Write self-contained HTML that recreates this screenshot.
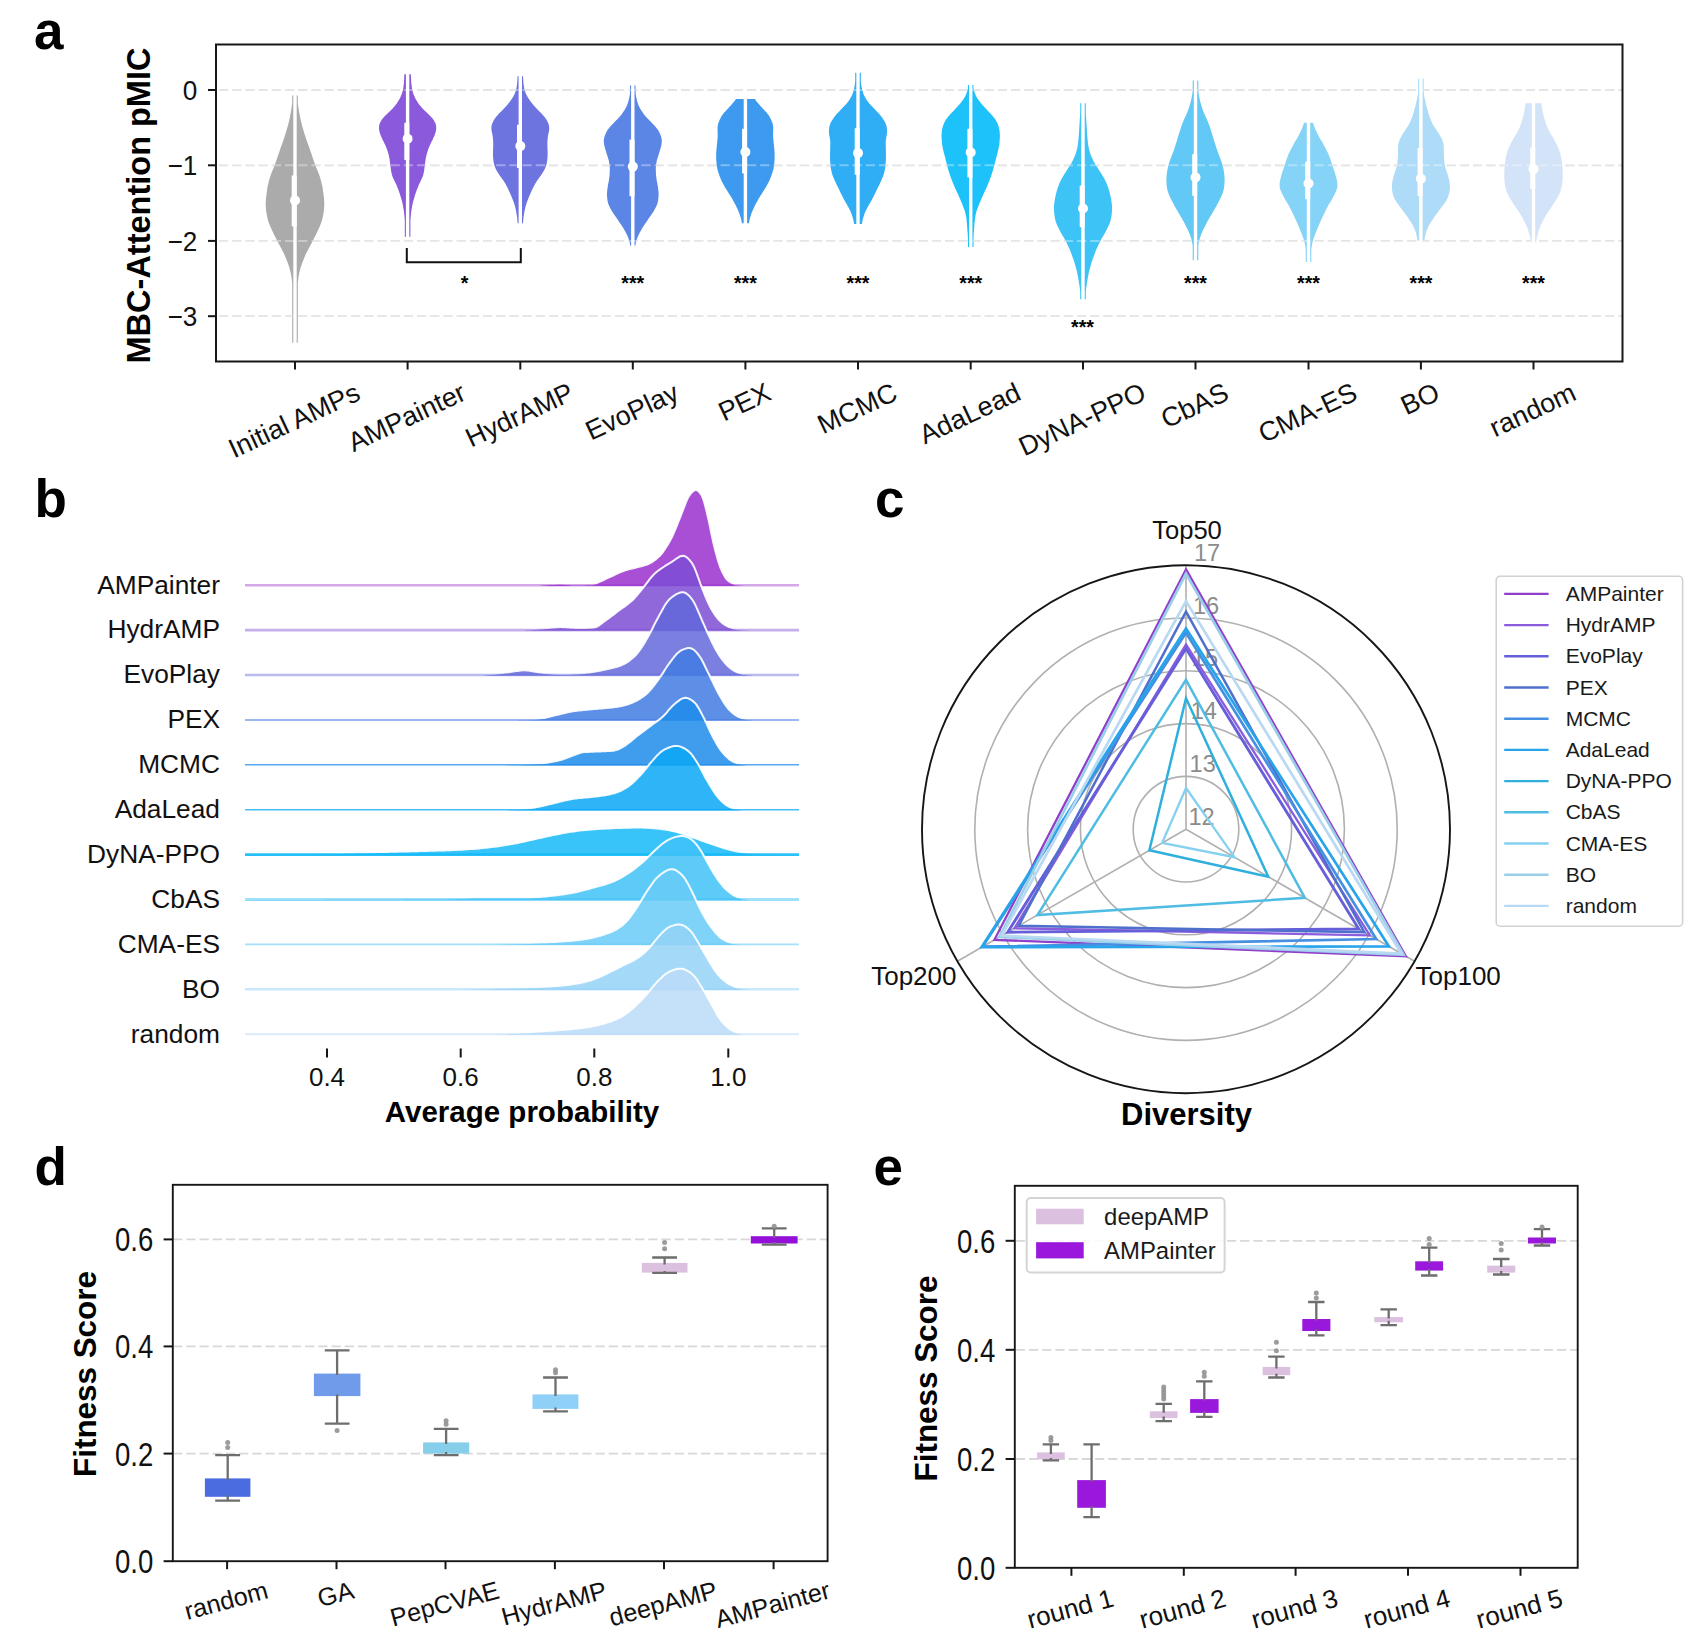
<!DOCTYPE html>
<html lang="en"><head><meta charset="utf-8"><title>Figure</title>
<style>html,body{margin:0;padding:0;background:#fff}svg{display:block}text{font-family:"Liberation Sans", sans-serif}</style></head>
<body>
<svg width="1704" height="1650" viewBox="0 0 1704 1650">
<rect width="1704" height="1650" fill="#fff"/>
<g id="panel-a">
<line x1="219" x2="1622.5" y1="90" y2="90" stroke="#d8d8d8" stroke-width="1.8" stroke-dasharray="9.2 4"/>
<line x1="219" x2="1622.5" y1="165.3" y2="165.3" stroke="#d8d8d8" stroke-width="1.8" stroke-dasharray="9.2 4"/>
<line x1="219" x2="1622.5" y1="240.9" y2="240.9" stroke="#d8d8d8" stroke-width="1.8" stroke-dasharray="9.2 4"/>
<line x1="219" x2="1622.5" y1="316.2" y2="316.2" stroke="#d8d8d8" stroke-width="1.8" stroke-dasharray="9.2 4"/>
<polygon points="292.2,95.5 292.2,98.2 292.2,101 292.1,103.8 291.7,106.6 291.3,109.3 290.8,112.1 290.3,114.9 289.8,117.7 289.2,120.5 288.5,123.2 287.8,126 287,128.8 286.2,131.6 285.3,134.4 284.4,137.1 283.5,139.9 282.5,142.7 281.5,145.5 280.5,148.2 279.6,151 278.6,153.8 277.7,156.6 276.7,159.4 275.8,162.1 274.7,164.9 273.7,167.7 272.5,170.5 271.4,173.2 270.4,176 269.5,178.8 268.8,181.6 268.1,184.4 267.5,187.1 267.1,189.9 266.7,192.7 266.3,195.5 266,198.3 265.8,201 265.7,203.8 265.8,206.6 266,209.4 266.3,212.1 266.8,214.9 267.4,217.7 268.1,220.5 269,223.3 270.1,226 271.3,228.8 272.6,231.6 274,234.4 275.4,237.2 276.8,239.9 278.2,242.7 279.7,245.5 281.2,248.3 282.6,251 284,253.8 285.2,256.6 286.4,259.4 287.5,262.2 288.5,264.9 289.4,267.7 290.1,270.5 290.8,273.3 291.3,276 291.7,278.8 292,281.6 292.2,284.4 292.2,287.2 292.2,289.9 292.2,292.7 292.2,295.5 292.2,298.3 292.2,301.1 292.2,303.8 292.2,306.6 292.2,309.4 292.2,312.2 292.2,314.9 292.2,317.7 292.2,320.5 292.2,323.3 292.2,326.1 292.2,328.8 292.2,331.6 292.2,334.4 292.2,337.2 292.2,339.9 292.2,342.7 297.8,342.7 297.8,339.9 297.8,337.2 297.8,334.4 297.8,331.6 297.8,328.8 297.8,326.1 297.8,323.3 297.8,320.5 297.8,317.7 297.8,314.9 297.8,312.2 297.8,309.4 297.8,306.6 297.8,303.8 297.8,301.1 297.8,298.3 297.8,295.5 297.8,292.7 297.8,289.9 297.8,287.2 297.8,284.4 298,281.6 298.3,278.8 298.7,276 299.2,273.3 299.9,270.5 300.6,267.7 301.5,264.9 302.5,262.2 303.6,259.4 304.8,256.6 306,253.8 307.4,251 308.8,248.3 310.3,245.5 311.8,242.7 313.2,239.9 314.6,237.2 316,234.4 317.4,231.6 318.7,228.8 319.9,226 321,223.3 321.9,220.5 322.6,217.7 323.2,214.9 323.7,212.1 324,209.4 324.2,206.6 324.3,203.8 324.2,201 324,198.3 323.7,195.5 323.3,192.7 322.9,189.9 322.5,187.1 321.9,184.4 321.2,181.6 320.5,178.8 319.6,176 318.6,173.2 317.5,170.5 316.3,167.7 315.3,164.9 314.2,162.1 313.3,159.4 312.3,156.6 311.4,153.8 310.4,151 309.5,148.2 308.5,145.5 307.5,142.7 306.5,139.9 305.6,137.1 304.7,134.4 303.8,131.6 303,128.8 302.2,126 301.5,123.2 300.8,120.5 300.2,117.7 299.7,114.9 299.2,112.1 298.7,109.3 298.3,106.6 297.9,103.8 297.8,101 297.8,98.2 297.8,95.5" fill="#ababab"/>
<line x1="295" x2="295" y1="94.5" y2="343.7" stroke="#fff" stroke-width="3.4"/>
<line x1="294.2" x2="294.2" y1="175.5" y2="226.4" stroke="#fff" stroke-width="5"/>
<circle cx="295" cy="200.4" r="5" fill="#fff"/>
<polygon points="404.3,74.2 404.3,76 404.2,77.8 404.1,79.7 404,81.5 403.9,83.3 403.7,85.1 403.4,87 403.2,88.8 402.8,90.6 402.3,92.4 401.7,94.3 400.9,96.1 400.1,97.9 399.1,99.8 398,101.6 396.8,103.4 395.4,105.2 393.9,107.1 392.2,108.9 390.4,110.7 388.5,112.5 386.5,114.4 384.7,116.2 383.1,118 381.7,119.8 380.6,121.7 379.7,123.5 379.2,125.3 379,127.2 379,129 379.3,130.8 379.7,132.6 380.3,134.5 381,136.3 381.9,138.1 382.7,139.9 383.7,141.8 384.5,143.6 385.4,145.4 386.2,147.3 386.9,149.1 387.5,150.9 388.1,152.7 388.6,154.6 389,156.4 389.4,158.2 389.7,160 389.9,161.9 390.2,163.7 390.4,165.5 390.7,167.4 390.9,169.2 391.1,171 391.5,172.8 391.9,174.7 392.5,176.5 393.2,178.3 394.1,180.1 395,182 395.9,183.8 396.7,185.6 397.4,187.5 398.2,189.3 398.8,191.1 399.5,192.9 400.1,194.8 400.6,196.6 401.2,198.4 401.7,200.2 402.2,202.1 402.6,203.9 403,205.7 403.3,207.6 403.6,209.4 403.9,211.2 404.1,213 404.3,214.9 404.5,216.7 404.6,218.5 404.8,220.3 404.8,222.2 404.8,224 404.8,225.8 404.8,227.7 404.8,229.5 404.8,231.3 404.8,233.1 404.8,235 404.8,236.8 410.4,236.8 410.4,235 410.4,233.1 410.4,231.3 410.4,229.5 410.4,227.7 410.4,225.8 410.4,224 410.4,222.2 410.4,220.3 410.6,218.5 410.7,216.7 410.9,214.9 411.1,213 411.3,211.2 411.6,209.4 411.9,207.6 412.2,205.7 412.6,203.9 413,202.1 413.5,200.2 414,198.4 414.6,196.6 415.1,194.8 415.7,192.9 416.4,191.1 417,189.3 417.8,187.5 418.5,185.6 419.3,183.8 420.2,182 421.1,180.1 422,178.3 422.7,176.5 423.3,174.7 423.7,172.8 424.1,171 424.3,169.2 424.5,167.4 424.8,165.5 425,163.7 425.3,161.9 425.5,160 425.8,158.2 426.2,156.4 426.6,154.6 427.1,152.7 427.7,150.9 428.3,149.1 429,147.3 429.8,145.4 430.7,143.6 431.5,141.8 432.5,139.9 433.3,138.1 434.2,136.3 434.9,134.5 435.5,132.6 435.9,130.8 436.2,129 436.2,127.2 436,125.3 435.5,123.5 434.6,121.7 433.5,119.8 432.1,118 430.5,116.2 428.7,114.4 426.7,112.5 424.8,110.7 423,108.9 421.3,107.1 419.8,105.2 418.4,103.4 417.2,101.6 416.1,99.8 415.1,97.9 414.3,96.1 413.5,94.3 412.9,92.4 412.4,90.6 412,88.8 411.8,87 411.5,85.1 411.3,83.3 411.2,81.5 411.1,79.7 411,77.8 410.9,76 410.9,74.2" fill="#8b59db"/>
<line x1="407.6" x2="407.6" y1="73.2" y2="237.8" stroke="#fff" stroke-width="3.4"/>
<line x1="406.8" x2="406.8" y1="122.8" y2="159.9" stroke="#fff" stroke-width="5"/>
<circle cx="407.6" cy="138.7" r="5" fill="#fff"/>
<polygon points="517.5,76.2 517.5,77.8 517.4,79.5 517.3,81.2 517.2,82.8 517,84.5 516.8,86.1 516.5,87.8 516.2,89.4 515.7,91.1 515.1,92.7 514.4,94.4 513.5,96 512.6,97.7 511.5,99.3 510.4,101 509.2,102.6 507.8,104.3 506.4,105.9 504.9,107.6 503.3,109.3 501.7,110.9 500,112.6 498.4,114.2 496.9,115.9 495.6,117.5 494.4,119.2 493.5,120.8 492.7,122.5 492,124.1 491.6,125.8 491.4,127.4 491.4,129.1 491.6,130.7 491.9,132.4 492.3,134 492.6,135.7 492.8,137.3 493,139 493.1,140.7 493.2,142.3 493.2,144 493.2,145.6 493.2,147.3 493.1,148.9 493,150.6 493,152.2 493,153.9 493,155.5 493.1,157.2 493.2,158.8 493.4,160.5 493.6,162.1 494,163.8 494.4,165.4 495,167.1 495.7,168.8 496.6,170.4 497.5,172.1 498.6,173.7 499.7,175.4 500.9,177 502.1,178.7 503.2,180.3 504.3,182 505.3,183.6 506.2,185.3 507.1,186.9 507.9,188.6 508.7,190.2 509.5,191.9 510.2,193.5 510.9,195.2 511.6,196.8 512.3,198.5 512.9,200.2 513.6,201.8 514.1,203.5 514.6,205.1 515.1,206.8 515.5,208.4 515.9,210.1 516.2,211.7 516.5,213.4 516.7,215 517,216.7 517.2,218.3 517.3,220 517.5,221.6 517.5,223.3 523.1,223.3 523.1,221.6 523.3,220 523.4,218.3 523.6,216.7 523.9,215 524.1,213.4 524.4,211.7 524.7,210.1 525.1,208.4 525.5,206.8 526,205.1 526.5,203.5 527,201.8 527.7,200.2 528.3,198.5 529,196.8 529.7,195.2 530.4,193.5 531.1,191.9 531.9,190.2 532.7,188.6 533.5,186.9 534.4,185.3 535.3,183.6 536.3,182 537.4,180.3 538.5,178.7 539.7,177 540.9,175.4 542,173.7 543.1,172.1 544,170.4 544.9,168.8 545.6,167.1 546.2,165.4 546.6,163.8 547,162.1 547.2,160.5 547.4,158.8 547.5,157.2 547.6,155.5 547.6,153.9 547.6,152.2 547.6,150.6 547.5,148.9 547.4,147.3 547.4,145.6 547.4,144 547.4,142.3 547.5,140.7 547.6,139 547.8,137.3 548,135.7 548.3,134 548.7,132.4 549,130.7 549.2,129.1 549.2,127.4 549,125.8 548.6,124.1 547.9,122.5 547.1,120.8 546.2,119.2 545,117.5 543.7,115.9 542.2,114.2 540.6,112.6 538.9,110.9 537.3,109.3 535.7,107.6 534.2,105.9 532.8,104.3 531.4,102.6 530.2,101 529.1,99.3 528,97.7 527.1,96 526.2,94.4 525.5,92.7 524.9,91.1 524.4,89.4 524.1,87.8 523.8,86.1 523.6,84.5 523.4,82.8 523.3,81.2 523.2,79.5 523.1,77.8 523.1,76.2" fill="#6d74df"/>
<line x1="520.3" x2="520.3" y1="75.2" y2="224.3" stroke="#fff" stroke-width="3.4"/>
<line x1="519.5" x2="519.5" y1="124.8" y2="168" stroke="#fff" stroke-width="5"/>
<circle cx="520.3" cy="146.1" r="5" fill="#fff"/>
<polygon points="630,85.6 630,87.4 630,89.2 630,91 630,92.8 629.8,94.6 629.5,96.4 629.1,98.2 628.7,100 628.3,101.8 627.7,103.6 627,105.4 626.1,107.2 625.2,109 624.1,110.8 622.9,112.6 621.6,114.4 620.1,116.2 618.5,118 616.8,119.8 615,121.6 613.2,123.4 611.5,125.2 609.9,127 608.5,128.8 607.2,130.6 606.2,132.4 605.4,134.2 604.7,136 604.2,137.7 603.9,139.5 603.8,141.3 603.9,143.1 604.2,144.9 604.6,146.7 605.1,148.5 605.6,150.3 606.2,152.1 606.7,153.9 607.3,155.7 607.9,157.5 608.4,159.3 608.9,161.1 609.2,162.9 609.5,164.7 609.7,166.5 609.8,168.3 609.8,170.1 609.7,171.9 609.7,173.7 609.5,175.5 609.3,177.3 609.1,179.1 608.8,180.9 608.4,182.7 608.1,184.5 607.8,186.3 607.5,188.1 607.3,189.9 607.1,191.7 607,193.5 607,195.2 607.1,197 607.3,198.8 607.5,200.6 607.9,202.4 608.4,204.2 609.2,206 610,207.8 611,209.6 612.1,211.4 613.3,213.2 614.5,215 615.7,216.8 617,218.6 618.2,220.4 619.4,222.2 620.7,224 621.8,225.8 623,227.6 624.1,229.4 625.1,231.2 626.1,233 626.9,234.8 627.7,236.6 628.5,238.4 629.1,240.2 629.6,242 630,243.8 630,245.6 635.6,245.6 635.6,243.8 636,242 636.5,240.2 637.1,238.4 637.9,236.6 638.7,234.8 639.5,233 640.5,231.2 641.5,229.4 642.6,227.6 643.8,225.8 644.9,224 646.2,222.2 647.4,220.4 648.6,218.6 649.9,216.8 651.1,215 652.3,213.2 653.5,211.4 654.6,209.6 655.6,207.8 656.4,206 657.2,204.2 657.7,202.4 658.1,200.6 658.3,198.8 658.5,197 658.6,195.2 658.6,193.5 658.5,191.7 658.3,189.9 658.1,188.1 657.8,186.3 657.5,184.5 657.2,182.7 656.8,180.9 656.5,179.1 656.3,177.3 656.1,175.5 655.9,173.7 655.9,171.9 655.8,170.1 655.8,168.3 655.9,166.5 656.1,164.7 656.4,162.9 656.7,161.1 657.2,159.3 657.7,157.5 658.3,155.7 658.9,153.9 659.4,152.1 660,150.3 660.5,148.5 661,146.7 661.4,144.9 661.7,143.1 661.8,141.3 661.7,139.5 661.4,137.7 660.9,136 660.2,134.2 659.4,132.4 658.4,130.6 657.1,128.8 655.7,127 654.1,125.2 652.4,123.4 650.6,121.6 648.8,119.8 647.1,118 645.5,116.2 644,114.4 642.7,112.6 641.5,110.8 640.4,109 639.5,107.2 638.6,105.4 637.9,103.6 637.3,101.8 636.9,100 636.5,98.2 636.1,96.4 635.8,94.6 635.6,92.8 635.6,91 635.6,89.2 635.6,87.4 635.6,85.6" fill="#5b86e5"/>
<line x1="632.8" x2="632.8" y1="84.6" y2="246.6" stroke="#fff" stroke-width="3.4"/>
<line x1="632" x2="632" y1="139.6" y2="196.3" stroke="#fff" stroke-width="5"/>
<circle cx="632.8" cy="166.6" r="5" fill="#fff"/>
<polygon points="735.9,98.9 735.1,100.3 734,101.7 732.9,103.1 731.6,104.5 730.4,105.9 729.1,107.3 727.9,108.7 726.6,110.1 725.3,111.4 724,112.8 722.9,114.2 721.9,115.6 721.1,117 720.3,118.4 719.7,119.8 719.1,121.2 718.5,122.6 718.1,124 717.8,125.4 717.6,126.8 717.6,128.2 717.6,129.6 717.6,131 717.6,132.4 717.7,133.8 717.7,135.2 717.6,136.6 717.6,138 717.5,139.4 717.3,140.8 717.2,142.2 717.1,143.6 716.9,145 716.8,146.4 716.6,147.8 716.5,149.2 716.4,150.6 716.3,152 716.2,153.4 716.2,154.8 716.2,156.2 716.2,157.6 716.2,159 716.3,160.4 716.4,161.8 716.5,163.2 716.6,164.6 716.8,166 717.1,167.4 717.3,168.8 717.7,170.2 718.1,171.6 718.5,173 719,174.4 719.5,175.8 720,177.2 720.6,178.6 721.2,180 721.8,181.4 722.5,182.7 723.2,184.1 724,185.5 724.8,186.9 725.6,188.3 726.5,189.7 727.4,191.1 728.3,192.5 729.2,193.9 730.1,195.3 730.9,196.7 731.8,198.1 732.6,199.5 733.4,200.9 734.1,202.3 734.9,203.7 735.6,205.1 736.3,206.5 737,207.9 737.6,209.3 738.2,210.7 738.8,212.1 739.4,213.5 739.8,214.9 740.3,216.3 740.7,217.7 741.1,219.1 741.4,220.5 741.7,221.9 741.9,223.3 748.9,223.3 749.1,221.9 749.4,220.5 749.7,219.1 750.1,217.7 750.5,216.3 751,214.9 751.4,213.5 752,212.1 752.6,210.7 753.2,209.3 753.8,207.9 754.5,206.5 755.2,205.1 755.9,203.7 756.7,202.3 757.4,200.9 758.2,199.5 759,198.1 759.9,196.7 760.7,195.3 761.6,193.9 762.5,192.5 763.4,191.1 764.3,189.7 765.2,188.3 766,186.9 766.8,185.5 767.6,184.1 768.3,182.7 769,181.4 769.6,180 770.2,178.6 770.8,177.2 771.3,175.8 771.8,174.4 772.3,173 772.7,171.6 773.1,170.2 773.5,168.8 773.7,167.4 774,166 774.2,164.6 774.3,163.2 774.4,161.8 774.5,160.4 774.6,159 774.6,157.6 774.6,156.2 774.6,154.8 774.6,153.4 774.5,152 774.4,150.6 774.3,149.2 774.2,147.8 774,146.4 773.9,145 773.7,143.6 773.6,142.2 773.5,140.8 773.3,139.4 773.2,138 773.2,136.6 773.1,135.2 773.1,133.8 773.2,132.4 773.2,131 773.2,129.6 773.2,128.2 773.2,126.8 773,125.4 772.7,124 772.3,122.6 771.7,121.2 771.1,119.8 770.5,118.4 769.7,117 768.9,115.6 767.9,114.2 766.8,112.8 765.5,111.4 764.2,110.1 762.9,108.7 761.7,107.3 760.4,105.9 759.2,104.5 757.9,103.1 756.8,101.7 755.7,100.3 754.9,98.9" fill="#3e9aee"/>
<line x1="745.4" x2="745.4" y1="97.9" y2="224.3" stroke="#fff" stroke-width="3.4"/>
<line x1="744.6" x2="744.6" y1="128.8" y2="173.4" stroke="#fff" stroke-width="5"/>
<circle cx="745.4" cy="152" r="5" fill="#fff"/>
<polygon points="855.2,72.8 855.2,74.5 855.2,76.2 855.2,77.9 855.2,79.6 855.2,81.3 855,83 854.8,84.7 854.5,86.4 854.2,88.1 853.8,89.8 853.3,91.5 852.8,93.2 852.1,94.9 851.3,96.6 850.4,98.3 849.3,100 848.1,101.7 846.7,103.4 845.2,105.1 843.6,106.8 841.9,108.5 840.3,110.2 838.7,111.9 837.1,113.6 835.7,115.3 834.3,117 833.1,118.7 832,120.4 831,122.1 830.3,123.8 829.7,125.5 829.3,127.2 829.1,128.9 828.9,130.6 829,132.3 829.1,134 829.4,135.7 829.7,137.4 830,139.1 830.2,140.8 830.3,142.5 830.3,144.1 830.2,145.8 830.2,147.5 830.2,149.2 830.1,150.9 830.1,152.6 830.1,154.3 830.1,156 830.1,157.7 830.1,159.4 830.2,161.1 830.3,162.8 830.4,164.5 830.5,166.2 830.8,167.9 831.1,169.6 831.5,171.3 831.9,173 832.4,174.7 833,176.4 833.7,178.1 834.4,179.8 835.2,181.5 836,183.2 836.8,184.9 837.6,186.6 838.5,188.3 839.3,190 840.1,191.7 840.9,193.4 841.8,195.1 842.6,196.8 843.5,198.5 844.4,200.2 845.4,201.9 846.3,203.6 847.3,205.3 848.3,207 849.2,208.7 850.1,210.4 850.8,212.1 851.5,213.8 852.1,215.5 852.6,217.2 853.1,218.9 853.5,220.6 853.8,222.3 854,224 862,224 862.2,222.3 862.5,220.6 862.9,218.9 863.4,217.2 863.9,215.5 864.5,213.8 865.2,212.1 865.9,210.4 866.8,208.7 867.7,207 868.7,205.3 869.7,203.6 870.6,201.9 871.6,200.2 872.5,198.5 873.4,196.8 874.2,195.1 875.1,193.4 875.9,191.7 876.7,190 877.5,188.3 878.4,186.6 879.2,184.9 880,183.2 880.8,181.5 881.6,179.8 882.3,178.1 883,176.4 883.6,174.7 884.1,173 884.5,171.3 884.9,169.6 885.2,167.9 885.5,166.2 885.6,164.5 885.7,162.8 885.8,161.1 885.9,159.4 885.9,157.7 885.9,156 885.9,154.3 885.9,152.6 885.9,150.9 885.8,149.2 885.8,147.5 885.8,145.8 885.7,144.1 885.7,142.5 885.8,140.8 886,139.1 886.3,137.4 886.6,135.7 886.9,134 887,132.3 887.1,130.6 886.9,128.9 886.7,127.2 886.3,125.5 885.7,123.8 885,122.1 884,120.4 882.9,118.7 881.7,117 880.3,115.3 878.9,113.6 877.3,111.9 875.7,110.2 874.1,108.5 872.4,106.8 870.8,105.1 869.3,103.4 867.9,101.7 866.7,100 865.6,98.3 864.7,96.6 863.9,94.9 863.2,93.2 862.7,91.5 862.2,89.8 861.8,88.1 861.5,86.4 861.2,84.7 861,83 860.8,81.3 860.8,79.6 860.8,77.9 860.8,76.2 860.8,74.5 860.8,72.8" fill="#2fadf5"/>
<line x1="858" x2="858" y1="71.8" y2="225" stroke="#fff" stroke-width="3.4"/>
<line x1="857.2" x2="857.2" y1="128.2" y2="174.7" stroke="#fff" stroke-width="5"/>
<circle cx="858" cy="153.1" r="5" fill="#fff"/>
<polygon points="967.9,85 967.9,86.8 967.9,88.6 967.4,90.4 966.9,92.2 966.2,94.1 965.4,95.9 964.4,97.7 963.2,99.5 961.9,101.3 960.5,103.2 958.9,105 957.3,106.8 955.6,108.6 953.9,110.4 952.2,112.3 950.4,114.1 948.8,115.9 947.3,117.7 946,119.5 944.9,121.4 944,123.2 943.3,125 942.7,126.8 942.3,128.6 941.9,130.5 941.7,132.3 941.6,134.1 941.5,135.9 941.6,137.7 941.7,139.6 941.8,141.4 942,143.2 942.2,145 942.5,146.8 942.9,148.7 943.3,150.5 943.7,152.3 944.2,154.1 944.7,155.9 945.2,157.7 945.6,159.6 946.1,161.4 946.6,163.2 947,165 947.5,166.8 948,168.7 948.5,170.5 949.1,172.3 949.6,174.1 950.3,175.9 950.9,177.8 951.6,179.6 952.3,181.4 953.1,183.2 953.8,185 954.6,186.9 955.4,188.7 956.2,190.5 957,192.3 957.9,194.1 958.7,196 959.5,197.8 960.3,199.6 961.1,201.4 961.9,203.2 962.6,205.1 963.3,206.9 964,208.7 964.7,210.5 965.2,212.3 965.6,214.2 966,216 966.3,217.8 966.5,219.6 966.7,221.4 966.9,223.3 967,225.1 967.2,226.9 967.3,228.7 967.4,230.5 967.6,232.4 967.7,234.2 967.8,236 967.9,237.8 967.9,239.6 967.9,241.5 967.9,243.3 967.9,245.1 967.9,246.9 973.5,246.9 973.5,245.1 973.5,243.3 973.5,241.5 973.5,239.6 973.5,237.8 973.6,236 973.7,234.2 973.8,232.4 974,230.5 974.1,228.7 974.2,226.9 974.4,225.1 974.5,223.3 974.7,221.4 974.9,219.6 975.1,217.8 975.4,216 975.8,214.2 976.2,212.3 976.7,210.5 977.4,208.7 978.1,206.9 978.8,205.1 979.5,203.2 980.3,201.4 981.1,199.6 981.9,197.8 982.7,196 983.5,194.1 984.4,192.3 985.2,190.5 986,188.7 986.8,186.9 987.6,185 988.3,183.2 989.1,181.4 989.8,179.6 990.5,177.8 991.1,175.9 991.8,174.1 992.3,172.3 992.9,170.5 993.4,168.7 993.9,166.8 994.4,165 994.8,163.2 995.3,161.4 995.8,159.6 996.2,157.7 996.7,155.9 997.2,154.1 997.7,152.3 998.1,150.5 998.5,148.7 998.9,146.8 999.2,145 999.4,143.2 999.6,141.4 999.7,139.6 999.8,137.7 999.9,135.9 999.8,134.1 999.7,132.3 999.5,130.5 999.1,128.6 998.7,126.8 998.1,125 997.4,123.2 996.5,121.4 995.4,119.5 994.1,117.7 992.6,115.9 991,114.1 989.2,112.3 987.5,110.4 985.8,108.6 984.1,106.8 982.5,105 980.9,103.2 979.5,101.3 978.2,99.5 977,97.7 976,95.9 975.2,94.1 974.5,92.2 974,90.4 973.5,88.6 973.5,86.8 973.5,85" fill="#1ec2fa"/>
<line x1="970.7" x2="970.7" y1="84" y2="247.9" stroke="#fff" stroke-width="3.4"/>
<line x1="969.9" x2="969.9" y1="128.8" y2="177.4" stroke="#fff" stroke-width="5"/>
<circle cx="970.7" cy="152.4" r="5" fill="#fff"/>
<polygon points="1080.2,103.3 1080.2,105.5 1080.2,107.7 1080.2,109.9 1080.2,112.1 1080.1,114.3 1080,116.5 1079.8,118.7 1079.7,120.9 1079.6,123.1 1079.4,125.3 1079.3,127.5 1079.2,129.7 1079,131.9 1078.9,134.1 1078.7,136.3 1078.5,138.5 1078.3,140.7 1078.1,142.9 1077.8,145.1 1077.4,147.3 1076.9,149.5 1076.3,151.7 1075.6,153.9 1074.8,156.1 1073.8,158.3 1072.8,160.5 1071.6,162.7 1070.3,164.9 1068.9,167.1 1067.5,169.3 1066.1,171.5 1064.6,173.7 1063.3,175.9 1062,178.1 1060.9,180.3 1059.8,182.6 1058.9,184.8 1058,187 1057.3,189.2 1056.6,191.4 1056.1,193.6 1055.6,195.8 1055.1,198 1054.7,200.2 1054.4,202.4 1054.1,204.6 1054,206.8 1054,209 1054.1,211.2 1054.2,213.4 1054.5,215.6 1054.9,217.8 1055.3,220 1056,222.2 1056.8,224.4 1057.8,226.6 1058.9,228.8 1060,231 1061.2,233.2 1062.5,235.4 1063.8,237.6 1065,239.8 1066.2,242 1067.3,244.2 1068.3,246.4 1069.3,248.6 1070.2,250.8 1071.1,253 1071.9,255.2 1072.7,257.4 1073.5,259.6 1074.2,261.8 1074.9,264 1075.5,266.2 1076.1,268.4 1076.7,270.6 1077.2,272.8 1077.6,275 1078.1,277.2 1078.5,279.4 1078.8,281.6 1079.2,283.9 1079.5,286.1 1079.8,288.3 1080.1,290.5 1080.2,292.7 1080.2,294.9 1080.2,297.1 1080.2,299.3 1085.8,299.3 1085.8,297.1 1085.8,294.9 1085.8,292.7 1085.9,290.5 1086.2,288.3 1086.5,286.1 1086.8,283.9 1087.2,281.6 1087.5,279.4 1087.9,277.2 1088.4,275 1088.8,272.8 1089.3,270.6 1089.9,268.4 1090.5,266.2 1091.1,264 1091.8,261.8 1092.5,259.6 1093.3,257.4 1094.1,255.2 1094.9,253 1095.8,250.8 1096.7,248.6 1097.7,246.4 1098.7,244.2 1099.8,242 1101,239.8 1102.2,237.6 1103.5,235.4 1104.8,233.2 1106,231 1107.1,228.8 1108.2,226.6 1109.2,224.4 1110,222.2 1110.7,220 1111.1,217.8 1111.5,215.6 1111.8,213.4 1111.9,211.2 1112,209 1112,206.8 1111.9,204.6 1111.6,202.4 1111.3,200.2 1110.9,198 1110.4,195.8 1109.9,193.6 1109.4,191.4 1108.7,189.2 1108,187 1107.1,184.8 1106.2,182.6 1105.1,180.3 1104,178.1 1102.7,175.9 1101.4,173.7 1099.9,171.5 1098.5,169.3 1097.1,167.1 1095.7,164.9 1094.4,162.7 1093.2,160.5 1092.2,158.3 1091.2,156.1 1090.4,153.9 1089.7,151.7 1089.1,149.5 1088.6,147.3 1088.2,145.1 1087.9,142.9 1087.7,140.7 1087.5,138.5 1087.3,136.3 1087.1,134.1 1087,131.9 1086.8,129.7 1086.7,127.5 1086.6,125.3 1086.4,123.1 1086.3,120.9 1086.2,118.7 1086,116.5 1085.9,114.3 1085.8,112.1 1085.8,109.9 1085.8,107.7 1085.8,105.5 1085.8,103.3" fill="#3ec3f7"/>
<line x1="1083" x2="1083" y1="102.3" y2="300.3" stroke="#fff" stroke-width="3.4"/>
<line x1="1082.2" x2="1082.2" y1="185.6" y2="227.1" stroke="#fff" stroke-width="5"/>
<circle cx="1083" cy="208.5" r="5" fill="#fff"/>
<polygon points="1192.7,80.4 1192.7,82.4 1192.7,84.4 1192.7,86.4 1192.7,88.4 1192.7,90.5 1192.5,92.5 1192.2,94.5 1191.8,96.5 1191.5,98.6 1191,100.6 1190.5,102.6 1189.9,104.6 1189.3,106.6 1188.6,108.7 1187.9,110.7 1187.1,112.7 1186.2,114.7 1185.3,116.7 1184.4,118.8 1183.5,120.8 1182.7,122.8 1181.9,124.8 1181.2,126.8 1180.5,128.9 1179.9,130.9 1179.2,132.9 1178.6,134.9 1178,137 1177.4,139 1176.8,141 1176.2,143 1175.5,145 1174.9,147.1 1174.2,149.1 1173.6,151.1 1172.8,153.1 1172,155.1 1171.2,157.2 1170.4,159.2 1169.7,161.2 1169,163.2 1168.5,165.2 1168,167.3 1167.5,169.3 1167.2,171.3 1166.9,173.3 1166.6,175.4 1166.5,177.4 1166.4,179.4 1166.4,181.4 1166.5,183.4 1166.7,185.5 1166.9,187.5 1167.3,189.5 1167.8,191.5 1168.5,193.5 1169.3,195.6 1170.2,197.6 1171.2,199.6 1172.2,201.6 1173.3,203.6 1174.4,205.7 1175.6,207.7 1176.8,209.7 1177.9,211.7 1179.1,213.8 1180.3,215.8 1181.5,217.8 1182.6,219.8 1183.8,221.8 1184.9,223.9 1185.9,225.9 1186.9,227.9 1187.9,229.9 1188.8,231.9 1189.7,234 1190.4,236 1191.1,238 1191.6,240 1192.1,242 1192.5,244.1 1192.7,246.1 1192.7,248.1 1192.7,250.1 1192.7,252.2 1192.7,254.2 1192.7,256.2 1192.7,258.2 1192.7,260.2 1198.3,260.2 1198.3,258.2 1198.3,256.2 1198.3,254.2 1198.3,252.2 1198.3,250.1 1198.3,248.1 1198.3,246.1 1198.5,244.1 1198.9,242 1199.4,240 1199.9,238 1200.6,236 1201.3,234 1202.2,231.9 1203.1,229.9 1204.1,227.9 1205.1,225.9 1206.1,223.9 1207.2,221.8 1208.4,219.8 1209.5,217.8 1210.7,215.8 1211.9,213.8 1213.1,211.7 1214.2,209.7 1215.4,207.7 1216.6,205.7 1217.7,203.6 1218.8,201.6 1219.8,199.6 1220.8,197.6 1221.7,195.6 1222.5,193.5 1223.2,191.5 1223.7,189.5 1224.1,187.5 1224.3,185.5 1224.5,183.4 1224.6,181.4 1224.6,179.4 1224.5,177.4 1224.4,175.4 1224.1,173.3 1223.8,171.3 1223.5,169.3 1223,167.3 1222.5,165.2 1222,163.2 1221.3,161.2 1220.6,159.2 1219.8,157.2 1219,155.1 1218.2,153.1 1217.4,151.1 1216.8,149.1 1216.1,147.1 1215.5,145 1214.8,143 1214.2,141 1213.6,139 1213,137 1212.4,134.9 1211.8,132.9 1211.1,130.9 1210.5,128.9 1209.8,126.8 1209.1,124.8 1208.3,122.8 1207.5,120.8 1206.6,118.8 1205.7,116.7 1204.8,114.7 1203.9,112.7 1203.1,110.7 1202.4,108.7 1201.7,106.6 1201.1,104.6 1200.5,102.6 1200,100.6 1199.5,98.6 1199.2,96.5 1198.8,94.5 1198.5,92.5 1198.3,90.5 1198.3,88.4 1198.3,86.4 1198.3,84.4 1198.3,82.4 1198.3,80.4" fill="#62c8f5"/>
<line x1="1195.5" x2="1195.5" y1="79.4" y2="261.2" stroke="#fff" stroke-width="3.4"/>
<line x1="1194.7" x2="1194.7" y1="154.2" y2="195.8" stroke="#fff" stroke-width="5"/>
<circle cx="1195.5" cy="177.4" r="5" fill="#fff"/>
<polygon points="1303.9,122.8 1303.5,124.3 1303,125.9 1302.4,127.5 1301.8,129 1301.1,130.6 1300.3,132.2 1299.6,133.7 1298.7,135.3 1297.9,136.9 1297,138.4 1296.1,140 1295.1,141.5 1294.2,143.1 1293.4,144.7 1292.5,146.2 1291.7,147.8 1290.8,149.4 1290.1,150.9 1289.3,152.5 1288.6,154.1 1288,155.6 1287.4,157.2 1286.8,158.7 1286.3,160.3 1285.8,161.9 1285.3,163.4 1284.8,165 1284.3,166.6 1283.7,168.1 1283.2,169.7 1282.6,171.3 1282.1,172.8 1281.7,174.4 1281.2,175.9 1280.8,177.5 1280.4,179.1 1280.1,180.6 1279.8,182.2 1279.6,183.8 1279.6,185.3 1279.7,186.9 1280,188.5 1280.5,190 1281.1,191.6 1281.8,193.1 1282.6,194.7 1283.4,196.3 1284.2,197.8 1285.1,199.4 1286,201 1286.9,202.5 1287.9,204.1 1288.8,205.6 1289.6,207.2 1290.5,208.8 1291.3,210.3 1292,211.9 1292.8,213.5 1293.5,215 1294.3,216.6 1295,218.2 1295.7,219.7 1296.4,221.3 1297.1,222.8 1297.8,224.4 1298.5,226 1299.1,227.5 1299.8,229.1 1300.4,230.7 1301,232.2 1301.6,233.8 1302.3,235.4 1302.8,236.9 1303.4,238.5 1303.9,240 1304.3,241.6 1304.7,243.2 1305,244.7 1305.2,246.3 1305.5,247.9 1305.7,249.4 1305.7,251 1305.7,252.6 1305.7,254.1 1305.7,255.7 1305.7,257.2 1305.7,258.8 1305.7,260.4 1305.7,261.9 1311.3,261.9 1311.3,260.4 1311.3,258.8 1311.3,257.2 1311.3,255.7 1311.3,254.1 1311.3,252.6 1311.3,251 1311.3,249.4 1311.5,247.9 1311.8,246.3 1312,244.7 1312.3,243.2 1312.7,241.6 1313.1,240 1313.6,238.5 1314.2,236.9 1314.7,235.4 1315.4,233.8 1316,232.2 1316.6,230.7 1317.2,229.1 1317.9,227.5 1318.5,226 1319.2,224.4 1319.9,222.8 1320.6,221.3 1321.3,219.7 1322,218.2 1322.7,216.6 1323.5,215 1324.2,213.5 1325,211.9 1325.7,210.3 1326.5,208.8 1327.4,207.2 1328.2,205.6 1329.1,204.1 1330.1,202.5 1331,201 1331.9,199.4 1332.8,197.8 1333.6,196.3 1334.4,194.7 1335.2,193.1 1335.9,191.6 1336.5,190 1337,188.5 1337.3,186.9 1337.4,185.3 1337.4,183.8 1337.2,182.2 1336.9,180.6 1336.6,179.1 1336.2,177.5 1335.8,175.9 1335.3,174.4 1334.9,172.8 1334.4,171.3 1333.8,169.7 1333.3,168.1 1332.7,166.6 1332.2,165 1331.7,163.4 1331.2,161.9 1330.7,160.3 1330.2,158.7 1329.6,157.2 1329,155.6 1328.4,154.1 1327.7,152.5 1326.9,150.9 1326.2,149.4 1325.3,147.8 1324.5,146.2 1323.6,144.7 1322.8,143.1 1321.9,141.5 1320.9,140 1320,138.4 1319.1,136.9 1318.3,135.3 1317.4,133.7 1316.7,132.2 1315.9,130.6 1315.2,129 1314.6,127.5 1314,125.9 1313.5,124.3 1313.1,122.8" fill="#85d3f7"/>
<line x1="1308.5" x2="1308.5" y1="121.8" y2="262.9" stroke="#fff" stroke-width="3.4"/>
<line x1="1307.7" x2="1307.7" y1="161.8" y2="199.1" stroke="#fff" stroke-width="5"/>
<circle cx="1308.5" cy="183.5" r="5" fill="#fff"/>
<polygon points="1418.1,78.7 1418.1,80.5 1418.1,82.3 1418.1,84.1 1418.1,85.9 1418.1,87.8 1418.1,89.6 1418.1,91.4 1417.9,93.2 1417.7,95.1 1417.4,96.9 1417,98.7 1416.7,100.5 1416.3,102.3 1415.9,104.2 1415.4,106 1414.9,107.8 1414.4,109.6 1413.9,111.4 1413.4,113.3 1412.8,115.1 1412.1,116.9 1411.5,118.7 1410.7,120.5 1409.9,122.4 1409,124.2 1408,126 1406.8,127.8 1405.6,129.7 1404.4,131.5 1403.2,133.3 1402.1,135.1 1401.1,136.9 1400.1,138.8 1399.3,140.6 1398.7,142.4 1398.3,144.2 1398.1,146 1398,147.9 1398,149.7 1398,151.5 1398,153.3 1397.9,155.1 1397.9,157 1397.8,158.8 1397.6,160.6 1397.4,162.4 1397.2,164.2 1396.8,166.1 1396.3,167.9 1395.7,169.7 1395.1,171.5 1394.5,173.4 1393.9,175.2 1393.4,177 1393,178.8 1392.6,180.6 1392.3,182.5 1392,184.3 1391.9,186.1 1391.9,187.9 1392.1,189.7 1392.3,191.6 1392.7,193.4 1393.2,195.2 1393.8,197 1394.6,198.8 1395.6,200.7 1396.8,202.5 1398,204.3 1399.4,206.1 1400.8,207.9 1402.2,209.8 1403.5,211.6 1404.9,213.4 1406.3,215.2 1407.6,217.1 1408.8,218.9 1410,220.7 1411.2,222.5 1412.3,224.3 1413.3,226.2 1414.1,228 1414.9,229.8 1415.5,231.6 1416,233.4 1416.5,235.3 1416.9,237.1 1417.2,238.9 1417.4,240.7 1424.4,240.7 1424.6,238.9 1424.9,237.1 1425.3,235.3 1425.8,233.4 1426.3,231.6 1426.9,229.8 1427.7,228 1428.5,226.2 1429.5,224.3 1430.6,222.5 1431.8,220.7 1433,218.9 1434.2,217.1 1435.5,215.2 1436.9,213.4 1438.3,211.6 1439.6,209.8 1441,207.9 1442.4,206.1 1443.8,204.3 1445,202.5 1446.2,200.7 1447.2,198.8 1448,197 1448.6,195.2 1449.1,193.4 1449.5,191.6 1449.7,189.7 1449.9,187.9 1449.9,186.1 1449.8,184.3 1449.5,182.5 1449.2,180.6 1448.8,178.8 1448.4,177 1447.9,175.2 1447.3,173.4 1446.7,171.5 1446.1,169.7 1445.5,167.9 1445,166.1 1444.6,164.2 1444.4,162.4 1444.2,160.6 1444,158.8 1443.9,157 1443.9,155.1 1443.8,153.3 1443.8,151.5 1443.8,149.7 1443.8,147.9 1443.7,146 1443.5,144.2 1443.1,142.4 1442.5,140.6 1441.7,138.8 1440.7,136.9 1439.7,135.1 1438.6,133.3 1437.4,131.5 1436.2,129.7 1435,127.8 1433.8,126 1432.8,124.2 1431.9,122.4 1431.1,120.5 1430.3,118.7 1429.7,116.9 1429,115.1 1428.4,113.3 1427.9,111.4 1427.4,109.6 1426.9,107.8 1426.4,106 1425.9,104.2 1425.5,102.3 1425.1,100.5 1424.8,98.7 1424.4,96.9 1424.1,95.1 1423.9,93.2 1423.7,91.4 1423.7,89.6 1423.7,87.8 1423.7,85.9 1423.7,84.1 1423.7,82.3 1423.7,80.5 1423.7,78.7" fill="#aedbf7"/>
<line x1="1420.9" x2="1420.9" y1="77.7" y2="241.7" stroke="#fff" stroke-width="3.4"/>
<line x1="1420.1" x2="1420.1" y1="148.2" y2="195.8" stroke="#fff" stroke-width="5"/>
<circle cx="1420.9" cy="178.8" r="5" fill="#fff"/>
<polygon points="1525.5,103.2 1525.4,104.7 1525.2,106.3 1525,107.8 1524.7,109.4 1524.4,111 1524.1,112.5 1523.7,114.1 1523.4,115.7 1523,117.2 1522.6,118.8 1522.1,120.3 1521.6,121.9 1521.1,123.5 1520.6,125 1520,126.6 1519.3,128.2 1518.6,129.7 1517.8,131.3 1516.9,132.8 1516,134.4 1515,136 1514,137.5 1513.1,139.1 1512.3,140.7 1511.4,142.2 1510.7,143.8 1509.9,145.3 1509.2,146.9 1508.5,148.5 1507.9,150 1507.4,151.6 1506.9,153.2 1506.5,154.7 1506.1,156.3 1505.8,157.8 1505.5,159.4 1505.3,161 1505,162.5 1504.9,164.1 1504.7,165.7 1504.6,167.2 1504.5,168.8 1504.4,170.4 1504.4,171.9 1504.3,173.5 1504.3,175 1504.3,176.6 1504.3,178.2 1504.4,179.7 1504.5,181.3 1504.7,182.9 1504.9,184.4 1505.2,186 1505.6,187.5 1505.9,189.1 1506.4,190.7 1506.9,192.2 1507.6,193.8 1508.3,195.4 1509.2,196.9 1510.1,198.5 1511,200 1512,201.6 1513,203.2 1514,204.7 1515,206.3 1516.1,207.9 1517.1,209.4 1518.2,211 1519.3,212.5 1520.3,214.1 1521.2,215.7 1522.1,217.2 1523,218.8 1523.9,220.4 1524.7,221.9 1525.4,223.5 1526.1,225 1526.8,226.6 1527.4,228.2 1527.9,229.7 1528.4,231.3 1528.9,232.9 1529.4,234.4 1529.8,236 1530.1,237.6 1530.4,239.1 1530.7,240.7 1530.7,242.2 1536.3,242.2 1536.3,240.7 1536.6,239.1 1536.9,237.6 1537.2,236 1537.6,234.4 1538.1,232.9 1538.6,231.3 1539.1,229.7 1539.6,228.2 1540.2,226.6 1540.9,225 1541.6,223.5 1542.3,221.9 1543.1,220.4 1544,218.8 1544.9,217.2 1545.8,215.7 1546.7,214.1 1547.7,212.5 1548.8,211 1549.9,209.4 1550.9,207.9 1552,206.3 1553,204.7 1554,203.2 1555,201.6 1556,200 1556.9,198.5 1557.8,196.9 1558.7,195.4 1559.4,193.8 1560.1,192.2 1560.6,190.7 1561.1,189.1 1561.4,187.5 1561.8,186 1562.1,184.4 1562.3,182.9 1562.5,181.3 1562.6,179.7 1562.7,178.2 1562.7,176.6 1562.7,175 1562.7,173.5 1562.6,171.9 1562.6,170.4 1562.5,168.8 1562.4,167.2 1562.3,165.7 1562.1,164.1 1562,162.5 1561.7,161 1561.5,159.4 1561.2,157.8 1560.9,156.3 1560.5,154.7 1560.1,153.2 1559.6,151.6 1559.1,150 1558.5,148.5 1557.8,146.9 1557.1,145.3 1556.3,143.8 1555.6,142.2 1554.7,140.7 1553.9,139.1 1553,137.5 1552,136 1551,134.4 1550.1,132.8 1549.2,131.3 1548.4,129.7 1547.7,128.2 1547,126.6 1546.4,125 1545.9,123.5 1545.4,121.9 1544.9,120.3 1544.4,118.8 1544,117.2 1543.6,115.7 1543.3,114.1 1542.9,112.5 1542.6,111 1542.3,109.4 1542,107.8 1541.8,106.3 1541.6,104.7 1541.5,103.2" fill="#d3e3f8"/>
<line x1="1533.5" x2="1533.5" y1="102.2" y2="243.2" stroke="#fff" stroke-width="3.4"/>
<line x1="1532.7" x2="1532.7" y1="147.5" y2="188.7" stroke="#fff" stroke-width="5"/>
<circle cx="1533.5" cy="169.1" r="5" fill="#fff"/>
<line x1="219" x2="1622.5" y1="90" y2="90" stroke="#ffffff" stroke-opacity="0.35" stroke-width="2" stroke-dasharray="9.2 4"/>
<line x1="219" x2="1622.5" y1="165.3" y2="165.3" stroke="#ffffff" stroke-opacity="0.35" stroke-width="2" stroke-dasharray="9.2 4"/>
<line x1="219" x2="1622.5" y1="240.9" y2="240.9" stroke="#ffffff" stroke-opacity="0.35" stroke-width="2" stroke-dasharray="9.2 4"/>
<line x1="219" x2="1622.5" y1="316.2" y2="316.2" stroke="#ffffff" stroke-opacity="0.35" stroke-width="2" stroke-dasharray="9.2 4"/>
<rect x="216" y="44.5" width="1406.5" height="317" fill="none" stroke="#161616" stroke-width="2.0"/>
<line x1="208" x2="216" y1="90" y2="90" stroke="#161616" stroke-width="2"/>
<text transform="translate(197.2 99.9) scale(0.95 1)" font-size="27.5" text-anchor="end" fill="#111">0</text>
<line x1="208" x2="216" y1="165.3" y2="165.3" stroke="#161616" stroke-width="2"/>
<text transform="translate(197.2 175.2) scale(0.95 1)" font-size="27.5" text-anchor="end" fill="#111">−1</text>
<line x1="208" x2="216" y1="240.9" y2="240.9" stroke="#161616" stroke-width="2"/>
<text transform="translate(197.2 250.8) scale(0.95 1)" font-size="27.5" text-anchor="end" fill="#111">−2</text>
<line x1="208" x2="216" y1="316.2" y2="316.2" stroke="#161616" stroke-width="2"/>
<text transform="translate(197.2 326.1) scale(0.95 1)" font-size="27.5" text-anchor="end" fill="#111">−3</text>
<line x1="295" x2="295" y1="361.5" y2="369.5" stroke="#161616" stroke-width="2"/>
<text transform="translate(294 420.2) rotate(-25)" font-size="27" text-anchor="middle" dy="0.35em" fill="#111">Initial AMPs</text>
<line x1="407.6" x2="407.6" y1="361.5" y2="369.5" stroke="#161616" stroke-width="2"/>
<text transform="translate(406.6 417) rotate(-25)" font-size="27" text-anchor="middle" dy="0.35em" fill="#111">AMPainter</text>
<line x1="520.3" x2="520.3" y1="361.5" y2="369.5" stroke="#161616" stroke-width="2"/>
<text transform="translate(519.3 414.8) rotate(-25)" font-size="27" text-anchor="middle" dy="0.35em" fill="#111">HydrAMP</text>
<line x1="632.8" x2="632.8" y1="361.5" y2="369.5" stroke="#161616" stroke-width="2"/>
<text transform="translate(631.8 411.3) rotate(-25)" font-size="27" text-anchor="middle" dy="0.35em" fill="#111">EvoPlay</text>
<line x1="745.4" x2="745.4" y1="361.5" y2="369.5" stroke="#161616" stroke-width="2"/>
<text transform="translate(744.4 401.8) rotate(-25)" font-size="27" text-anchor="middle" dy="0.35em" fill="#111">PEX</text>
<line x1="858" x2="858" y1="361.5" y2="369.5" stroke="#161616" stroke-width="2"/>
<text transform="translate(857 408.1) rotate(-25)" font-size="27" text-anchor="middle" dy="0.35em" fill="#111">MCMC</text>
<line x1="970.7" x2="970.7" y1="361.5" y2="369.5" stroke="#161616" stroke-width="2"/>
<text transform="translate(969.7 413.2) rotate(-25)" font-size="27" text-anchor="middle" dy="0.35em" fill="#111">AdaLead</text>
<line x1="1083" x2="1083" y1="361.5" y2="369.5" stroke="#161616" stroke-width="2"/>
<text transform="translate(1082 419.2) rotate(-25)" font-size="27" text-anchor="middle" dy="0.35em" fill="#111">DyNA-PPO</text>
<line x1="1195.5" x2="1195.5" y1="361.5" y2="369.5" stroke="#161616" stroke-width="2"/>
<text transform="translate(1194.5 405.3) rotate(-25)" font-size="27" text-anchor="middle" dy="0.35em" fill="#111">CbAS</text>
<line x1="1308.5" x2="1308.5" y1="361.5" y2="369.5" stroke="#161616" stroke-width="2"/>
<text transform="translate(1307.5 412.6) rotate(-25)" font-size="27" text-anchor="middle" dy="0.35em" fill="#111">CMA-ES</text>
<line x1="1420.9" x2="1420.9" y1="361.5" y2="369.5" stroke="#161616" stroke-width="2"/>
<text transform="translate(1419.9 398.6) rotate(-25)" font-size="27" text-anchor="middle" dy="0.35em" fill="#111">BO</text>
<line x1="1533.5" x2="1533.5" y1="361.5" y2="369.5" stroke="#161616" stroke-width="2"/>
<text transform="translate(1532.5 409.7) rotate(-25)" font-size="27" text-anchor="middle" dy="0.35em" fill="#111">random</text>
<text transform="translate(149.6 205.5) rotate(-90)" font-size="32.5" font-weight="bold" text-anchor="middle" fill="#000">MBC-Attention pMIC</text>
<path d="M406.8 248 V262.2 H520.8 V248" fill="none" stroke="#111" stroke-width="2"/>
<text x="464.5" y="290.2" font-size="19.6" text-anchor="middle" fill="#000" font-weight="bold">*</text>
<text x="632.8" y="290.2" font-size="19.6" text-anchor="middle" fill="#000" font-weight="bold">***</text>
<text x="745.4" y="290.2" font-size="19.6" text-anchor="middle" fill="#000" font-weight="bold">***</text>
<text x="858" y="290.2" font-size="19.6" text-anchor="middle" fill="#000" font-weight="bold">***</text>
<text x="970.7" y="290.2" font-size="19.6" text-anchor="middle" fill="#000" font-weight="bold">***</text>
<text x="1082.5" y="334.4" font-size="19.6" text-anchor="middle" fill="#000" font-weight="bold">***</text>
<text x="1195.5" y="290.2" font-size="19.6" text-anchor="middle" fill="#000" font-weight="bold">***</text>
<text x="1308.5" y="290.2" font-size="19.6" text-anchor="middle" fill="#000" font-weight="bold">***</text>
<text x="1421" y="290.2" font-size="19.6" text-anchor="middle" fill="#000" font-weight="bold">***</text>
<text x="1533.5" y="290.2" font-size="19.6" text-anchor="middle" fill="#000" font-weight="bold">***</text>
</g>
<g id="panel-b">
<polygon points="540.4,585.9 540.4,584.8 541.5,584.8 542.6,584.6 543.8,584.5 544.9,584.4 546.1,584.3 547.2,584.2 548.4,584.2 549.5,584.1 550.7,584 551.8,584 553,583.9 554.1,583.9 555.3,583.9 556.4,583.8 557.6,583.8 558.7,583.8 559.8,583.8 561,583.8 562.1,583.8 563.3,583.9 564.4,583.9 565.6,584 566.7,584.1 567.9,584.2 569,584.3 570.2,584.3 571.3,584.4 572.5,584.4 573.6,584.4 574.7,584.4 575.9,584.4 577,584.4 578.2,584.4 579.3,584.4 580.5,584.4 581.6,584.4 582.8,584.4 583.9,584.4 585.1,584.4 586.2,584.3 587.4,584.3 588.5,584.3 589.6,584.3 590.8,584.2 591.9,584.2 593.1,584 594.2,583.8 595.4,583.5 596.5,583.2 597.7,582.7 598.8,582.2 600,581.7 601.1,581.2 602.3,580.6 603.4,580 604.5,579.5 605.7,578.9 606.8,578.4 608,577.9 609.1,577.4 610.3,576.9 611.4,576.4 612.6,575.8 613.7,575.3 614.9,574.7 616,574.2 617.2,573.7 618.3,573.1 619.4,572.6 620.6,572.1 621.7,571.6 622.9,571.2 624,570.8 625.2,570.4 626.3,570 627.5,569.7 628.6,569.4 629.8,569.1 630.9,568.8 632.1,568.6 633.2,568.3 634.3,568 635.5,567.7 636.6,567.4 637.8,567.1 638.9,566.8 640.1,566.5 641.2,566.3 642.4,566 643.5,565.6 644.7,565.3 645.8,564.9 647,564.5 648.1,564 649.2,563.5 650.4,562.9 651.5,562.3 652.7,561.6 653.8,560.8 655,559.9 656.1,559.1 657.3,558.1 658.4,557.1 659.6,556 660.7,554.7 661.9,553.4 663,551.9 664.1,550.3 665.3,548.6 666.4,546.8 667.6,545 668.7,543 669.9,541 671,538.8 672.2,536.5 673.3,534 674.5,531.3 675.6,528.6 676.8,525.8 677.9,522.9 679,520.1 680.2,517.3 681.3,514.5 682.5,511.5 683.6,508.5 684.8,505.4 685.9,502.4 687.1,499.7 688.2,497.3 689.4,495.4 690.5,493.9 691.7,492.6 692.8,491.5 694,490.6 695.1,490.1 696.2,490.1 697.4,490.4 698.5,491.3 699.7,492.5 700.8,494.1 702,496.1 703.1,498.8 704.3,502.4 705.4,506.7 706.6,511.4 707.7,516.3 708.9,521.4 710,526.8 711.1,532.4 712.3,537.8 713.4,543 714.6,547.8 715.7,552.3 716.9,556.6 718,560.5 719.2,564.1 720.3,567.3 721.5,570.1 722.6,572.6 723.8,574.8 724.9,576.8 726,578.5 727.2,579.8 728.3,580.8 729.5,581.6 730.6,582.3 731.8,582.9 732.9,583.4 734.1,583.8 735.2,584.2 736.4,584.4 737.5,584.5 738.7,584.6 739.8,584.7 740.9,584.8 742.1,584.8 743.2,584.9 744.4,584.9 745.5,584.9 745.5,585.9" fill="#9a30ce" fill-opacity="0.85"/>
<polyline points="245,584.9 540.4,584.8 541.5,584.8 542.6,584.6 543.8,584.5 544.9,584.4 546.1,584.3 547.2,584.2 548.4,584.2 549.5,584.1 550.7,584 551.8,584 553,583.9 554.1,583.9 555.3,583.9 556.4,583.8 557.6,583.8 558.7,583.8 559.8,583.8 561,583.8 562.1,583.8 563.3,583.9 564.4,583.9 565.6,584 566.7,584.1 567.9,584.2 569,584.3 570.2,584.3 571.3,584.4 572.5,584.4 573.6,584.4 574.7,584.4 575.9,584.4 577,584.4 578.2,584.4 579.3,584.4 580.5,584.4 581.6,584.4 582.8,584.4 583.9,584.4 585.1,584.4 586.2,584.3 587.4,584.3 588.5,584.3 589.6,584.3 590.8,584.2 591.9,584.2 593.1,584 594.2,583.8 595.4,583.5 596.5,583.2 597.7,582.7 598.8,582.2 600,581.7 601.1,581.2 602.3,580.6 603.4,580 604.5,579.5 605.7,578.9 606.8,578.4 608,577.9 609.1,577.4 610.3,576.9 611.4,576.4 612.6,575.8 613.7,575.3 614.9,574.7 616,574.2 617.2,573.7 618.3,573.1 619.4,572.6 620.6,572.1 621.7,571.6 622.9,571.2 624,570.8 625.2,570.4 626.3,570 627.5,569.7 628.6,569.4 629.8,569.1 630.9,568.8 632.1,568.6 633.2,568.3 634.3,568 635.5,567.7 636.6,567.4 637.8,567.1 638.9,566.8 640.1,566.5 641.2,566.3 642.4,566 643.5,565.6 644.7,565.3 645.8,564.9 647,564.5 648.1,564 649.2,563.5 650.4,562.9 651.5,562.3 652.7,561.6 653.8,560.8 655,559.9 656.1,559.1 657.3,558.1 658.4,557.1 659.6,556 660.7,554.7 661.9,553.4 663,551.9 664.1,550.3 665.3,548.6 666.4,546.8 667.6,545 668.7,543 669.9,541 671,538.8 672.2,536.5 673.3,534 674.5,531.3 675.6,528.6 676.8,525.8 677.9,522.9 679,520.1 680.2,517.3 681.3,514.5 682.5,511.5 683.6,508.5 684.8,505.4 685.9,502.4 687.1,499.7 688.2,497.3 689.4,495.4 690.5,493.9 691.7,492.6 692.8,491.5 694,490.6 695.1,490.1 696.2,490.1 697.4,490.4 698.5,491.3 699.7,492.5 700.8,494.1 702,496.1 703.1,498.8 704.3,502.4 705.4,506.7 706.6,511.4 707.7,516.3 708.9,521.4 710,526.8 711.1,532.4 712.3,537.8 713.4,543 714.6,547.8 715.7,552.3 716.9,556.6 718,560.5 719.2,564.1 720.3,567.3 721.5,570.1 722.6,572.6 723.8,574.8 724.9,576.8 726,578.5 727.2,579.8 728.3,580.8 729.5,581.6 730.6,582.3 731.8,582.9 732.9,583.4 734.1,583.8 735.2,584.2 736.4,584.4 737.5,584.5 738.7,584.6 739.8,584.7 740.9,584.8 742.1,584.8 743.2,584.9 744.4,584.9 745.5,584.9 799,584.9" fill="none" stroke="#fff" stroke-opacity="0.92" stroke-width="2" stroke-linejoin="round"/>
<line x1="245" x2="799" y1="585.2" y2="585.2" stroke="#9a30ce" stroke-opacity="0.42" stroke-width="2.6"/>
<text x="220" y="593.5" font-size="26.3" text-anchor="end" fill="#111">AMPainter</text>
<polygon points="524.7,630.8 524.7,629.8 526,629.7 527.2,629.6 528.5,629.5 529.7,629.5 531,629.4 532.2,629.3 533.5,629.2 534.7,629.1 536,629 537.2,628.9 538.5,628.8 539.7,628.7 540.9,628.6 542.2,628.5 543.4,628.4 544.7,628.3 545.9,628.2 547.2,628 548.4,627.9 549.7,627.8 550.9,627.7 552.2,627.6 553.4,627.5 554.6,627.4 555.9,627.3 557.1,627.2 558.4,627.2 559.6,627.1 560.9,627.1 562.1,627.2 563.4,627.2 564.6,627.3 565.9,627.3 567.1,627.4 568.4,627.5 569.6,627.6 570.8,627.7 572.1,627.8 573.3,627.8 574.6,627.9 575.8,628 577.1,628 578.3,628 579.6,628 580.8,628 582.1,628 583.3,628 584.5,627.9 585.8,627.9 587,627.9 588.3,627.8 589.5,627.8 590.8,627.7 592,627.7 593.3,627.6 594.5,627.4 595.8,627 597,626.5 598.3,625.8 599.5,625 600.7,624.1 602,623.1 603.2,622.2 604.5,621.3 605.7,620.4 607,619.5 608.2,618.6 609.5,617.7 610.7,616.8 612,615.8 613.2,614.9 614.5,613.9 615.7,612.9 616.9,612 618.2,611 619.4,610.1 620.7,609.2 621.9,608.3 623.2,607.5 624.4,606.6 625.7,605.7 626.9,604.8 628.2,603.8 629.4,602.8 630.6,601.8 631.9,600.7 633.1,599.5 634.4,598.2 635.6,596.8 636.9,595.4 638.1,593.9 639.4,592.4 640.6,590.9 641.9,589.3 643.1,587.8 644.4,586.2 645.6,584.6 646.8,583 648.1,581.4 649.3,579.7 650.6,578.1 651.8,576.6 653.1,575.2 654.3,573.9 655.6,572.8 656.8,571.8 658.1,570.8 659.3,569.9 660.5,569 661.8,568.2 663,567.3 664.3,566.5 665.5,565.7 666.8,564.9 668,564.1 669.3,563.4 670.5,562.6 671.8,561.9 673,561 674.3,560.2 675.5,559.3 676.7,558.4 678,557.6 679.2,556.8 680.5,556.3 681.7,555.9 683,555.8 684.2,556 685.5,556.5 686.7,557.3 688,558.4 689.2,559.6 690.4,561.1 691.7,562.7 692.9,564.7 694.2,567.2 695.4,570.1 696.7,573.4 697.9,576.9 699.2,580.4 700.4,583.8 701.7,587 702.9,590.2 704.2,593.3 705.4,596.4 706.6,599.4 707.9,602.2 709.1,604.8 710.4,607.3 711.6,609.5 712.9,611.6 714.1,613.6 715.4,615.5 716.6,617.2 717.9,618.7 719.1,620 720.4,621.2 721.6,622.4 722.8,623.4 724.1,624.3 725.3,625.2 726.6,625.9 727.8,626.4 729.1,627 730.3,627.4 731.6,627.8 732.8,628.2 734.1,628.5 735.3,628.8 736.5,629 737.8,629.2 739,629.3 740.3,629.5 741.5,629.6 742.8,629.6 744,629.7 745.3,629.7 746.5,629.8 747.8,629.8 747.8,630.8" fill="#7c4dd3" fill-opacity="0.85"/>
<polyline points="245,629.8 524.7,629.8 526,629.7 527.2,629.6 528.5,629.5 529.7,629.5 531,629.4 532.2,629.3 533.5,629.2 534.7,629.1 536,629 537.2,628.9 538.5,628.8 539.7,628.7 540.9,628.6 542.2,628.5 543.4,628.4 544.7,628.3 545.9,628.2 547.2,628 548.4,627.9 549.7,627.8 550.9,627.7 552.2,627.6 553.4,627.5 554.6,627.4 555.9,627.3 557.1,627.2 558.4,627.2 559.6,627.1 560.9,627.1 562.1,627.2 563.4,627.2 564.6,627.3 565.9,627.3 567.1,627.4 568.4,627.5 569.6,627.6 570.8,627.7 572.1,627.8 573.3,627.8 574.6,627.9 575.8,628 577.1,628 578.3,628 579.6,628 580.8,628 582.1,628 583.3,628 584.5,627.9 585.8,627.9 587,627.9 588.3,627.8 589.5,627.8 590.8,627.7 592,627.7 593.3,627.6 594.5,627.4 595.8,627 597,626.5 598.3,625.8 599.5,625 600.7,624.1 602,623.1 603.2,622.2 604.5,621.3 605.7,620.4 607,619.5 608.2,618.6 609.5,617.7 610.7,616.8 612,615.8 613.2,614.9 614.5,613.9 615.7,612.9 616.9,612 618.2,611 619.4,610.1 620.7,609.2 621.9,608.3 623.2,607.5 624.4,606.6 625.7,605.7 626.9,604.8 628.2,603.8 629.4,602.8 630.6,601.8 631.9,600.7 633.1,599.5 634.4,598.2 635.6,596.8 636.9,595.4 638.1,593.9 639.4,592.4 640.6,590.9 641.9,589.3 643.1,587.8 644.4,586.2 645.6,584.6 646.8,583 648.1,581.4 649.3,579.7 650.6,578.1 651.8,576.6 653.1,575.2 654.3,573.9 655.6,572.8 656.8,571.8 658.1,570.8 659.3,569.9 660.5,569 661.8,568.2 663,567.3 664.3,566.5 665.5,565.7 666.8,564.9 668,564.1 669.3,563.4 670.5,562.6 671.8,561.9 673,561 674.3,560.2 675.5,559.3 676.7,558.4 678,557.6 679.2,556.8 680.5,556.3 681.7,555.9 683,555.8 684.2,556 685.5,556.5 686.7,557.3 688,558.4 689.2,559.6 690.4,561.1 691.7,562.7 692.9,564.7 694.2,567.2 695.4,570.1 696.7,573.4 697.9,576.9 699.2,580.4 700.4,583.8 701.7,587 702.9,590.2 704.2,593.3 705.4,596.4 706.6,599.4 707.9,602.2 709.1,604.8 710.4,607.3 711.6,609.5 712.9,611.6 714.1,613.6 715.4,615.5 716.6,617.2 717.9,618.7 719.1,620 720.4,621.2 721.6,622.4 722.8,623.4 724.1,624.3 725.3,625.2 726.6,625.9 727.8,626.4 729.1,627 730.3,627.4 731.6,627.8 732.8,628.2 734.1,628.5 735.3,628.8 736.5,629 737.8,629.2 739,629.3 740.3,629.5 741.5,629.6 742.8,629.6 744,629.7 745.3,629.7 746.5,629.8 747.8,629.8 799,629.8" fill="none" stroke="#fff" stroke-opacity="0.92" stroke-width="2" stroke-linejoin="round"/>
<line x1="245" x2="799" y1="630.1" y2="630.1" stroke="#7c4dd3" stroke-opacity="0.45" stroke-width="2.6"/>
<text x="220" y="638.4" font-size="26.3" text-anchor="end" fill="#111">HydrAMP</text>
<polygon points="484.6,675.7 484.6,674.6 486.1,674.6 487.6,674.4 489.1,674.3 490.6,674.2 492.1,674 493.6,673.9 495.1,673.7 496.6,673.6 498.1,673.4 499.6,673.3 501,673.1 502.5,672.9 504,672.8 505.5,672.6 507,672.4 508.5,672.3 510,672 511.5,671.8 513,671.6 514.5,671.3 516,671.1 517.5,670.9 519,670.7 520.5,670.5 522,670.4 523.5,670.3 525,670.3 526.5,670.4 528,670.5 529.5,670.7 531,670.9 532.4,671.2 533.9,671.4 535.4,671.7 536.9,672 538.4,672.2 539.9,672.4 541.4,672.6 542.9,672.7 544.4,672.9 545.9,673 547.4,673.2 548.9,673.3 550.4,673.4 551.9,673.5 553.4,673.7 554.9,673.8 556.4,673.8 557.9,673.9 559.4,674 560.9,674 562.3,674 563.8,674 565.3,674 566.8,674 568.3,673.9 569.8,673.9 571.3,673.8 572.8,673.7 574.3,673.7 575.8,673.6 577.3,673.5 578.8,673.4 580.3,673.3 581.8,673.2 583.3,673 584.8,672.9 586.3,672.8 587.8,672.6 589.3,672.5 590.8,672.3 592.2,672 593.7,671.8 595.2,671.6 596.7,671.3 598.2,671 599.7,670.7 601.2,670.4 602.7,670.1 604.2,669.8 605.7,669.5 607.2,669.1 608.7,668.8 610.2,668.5 611.7,668.1 613.2,667.8 614.7,667.4 616.2,667 617.7,666.5 619.2,666 620.7,665.5 622.1,664.9 623.6,664.2 625.1,663.5 626.6,662.6 628.1,661.6 629.6,660.5 631.1,659.3 632.6,658 634.1,656.7 635.6,655.2 637.1,653.6 638.6,651.7 640.1,649.7 641.6,647.5 643.1,645.1 644.6,642.7 646.1,640.1 647.6,637.6 649.1,634.9 650.6,632.1 652.1,629.2 653.5,626.3 655,623.3 656.5,620.5 658,617.7 659.5,614.9 661,612.2 662.5,609.5 664,606.8 665.5,604.3 667,602.2 668.5,600.3 670,598.8 671.5,597.5 673,596.4 674.5,595.4 676,594.4 677.5,593.6 679,593 680.5,592.5 682,592.2 683.4,592.3 684.9,592.7 686.4,593.5 687.9,594.7 689.4,596.1 690.9,597.8 692.4,599.8 693.9,602.2 695.4,605.1 696.9,608.4 698.4,611.9 699.9,615.4 701.4,618.8 702.9,622.3 704.4,625.7 705.9,629.1 707.4,632.5 708.9,635.7 710.4,638.9 711.9,642 713.3,644.9 714.8,647.8 716.3,650.5 717.8,653 719.3,655.4 720.8,657.6 722.3,659.6 723.8,661.6 725.3,663.4 726.8,665.1 728.3,666.5 729.8,667.8 731.3,668.9 732.8,669.9 734.3,670.8 735.8,671.6 737.3,672.3 738.8,672.9 740.3,673.3 741.8,673.7 743.3,673.9 744.7,674.1 746.2,674.3 747.7,674.5 749.2,674.6 750.7,674.6 752.2,674.7 752.2,675.7" fill="#6368db" fill-opacity="0.85"/>
<polyline points="245,674.7 484.6,674.6 486.1,674.6 487.6,674.4 489.1,674.3 490.6,674.2 492.1,674 493.6,673.9 495.1,673.7 496.6,673.6 498.1,673.4 499.6,673.3 501,673.1 502.5,672.9 504,672.8 505.5,672.6 507,672.4 508.5,672.3 510,672 511.5,671.8 513,671.6 514.5,671.3 516,671.1 517.5,670.9 519,670.7 520.5,670.5 522,670.4 523.5,670.3 525,670.3 526.5,670.4 528,670.5 529.5,670.7 531,670.9 532.4,671.2 533.9,671.4 535.4,671.7 536.9,672 538.4,672.2 539.9,672.4 541.4,672.6 542.9,672.7 544.4,672.9 545.9,673 547.4,673.2 548.9,673.3 550.4,673.4 551.9,673.5 553.4,673.7 554.9,673.8 556.4,673.8 557.9,673.9 559.4,674 560.9,674 562.3,674 563.8,674 565.3,674 566.8,674 568.3,673.9 569.8,673.9 571.3,673.8 572.8,673.7 574.3,673.7 575.8,673.6 577.3,673.5 578.8,673.4 580.3,673.3 581.8,673.2 583.3,673 584.8,672.9 586.3,672.8 587.8,672.6 589.3,672.5 590.8,672.3 592.2,672 593.7,671.8 595.2,671.6 596.7,671.3 598.2,671 599.7,670.7 601.2,670.4 602.7,670.1 604.2,669.8 605.7,669.5 607.2,669.1 608.7,668.8 610.2,668.5 611.7,668.1 613.2,667.8 614.7,667.4 616.2,667 617.7,666.5 619.2,666 620.7,665.5 622.1,664.9 623.6,664.2 625.1,663.5 626.6,662.6 628.1,661.6 629.6,660.5 631.1,659.3 632.6,658 634.1,656.7 635.6,655.2 637.1,653.6 638.6,651.7 640.1,649.7 641.6,647.5 643.1,645.1 644.6,642.7 646.1,640.1 647.6,637.6 649.1,634.9 650.6,632.1 652.1,629.2 653.5,626.3 655,623.3 656.5,620.5 658,617.7 659.5,614.9 661,612.2 662.5,609.5 664,606.8 665.5,604.3 667,602.2 668.5,600.3 670,598.8 671.5,597.5 673,596.4 674.5,595.4 676,594.4 677.5,593.6 679,593 680.5,592.5 682,592.2 683.4,592.3 684.9,592.7 686.4,593.5 687.9,594.7 689.4,596.1 690.9,597.8 692.4,599.8 693.9,602.2 695.4,605.1 696.9,608.4 698.4,611.9 699.9,615.4 701.4,618.8 702.9,622.3 704.4,625.7 705.9,629.1 707.4,632.5 708.9,635.7 710.4,638.9 711.9,642 713.3,644.9 714.8,647.8 716.3,650.5 717.8,653 719.3,655.4 720.8,657.6 722.3,659.6 723.8,661.6 725.3,663.4 726.8,665.1 728.3,666.5 729.8,667.8 731.3,668.9 732.8,669.9 734.3,670.8 735.8,671.6 737.3,672.3 738.8,672.9 740.3,673.3 741.8,673.7 743.3,673.9 744.7,674.1 746.2,674.3 747.7,674.5 749.2,674.6 750.7,674.6 752.2,674.7 799,674.7" fill="none" stroke="#fff" stroke-opacity="0.92" stroke-width="2" stroke-linejoin="round"/>
<line x1="245" x2="799" y1="675" y2="675" stroke="#6368db" stroke-opacity="0.45" stroke-width="2.6"/>
<text x="220" y="683.3" font-size="26.3" text-anchor="end" fill="#111">EvoPlay</text>
<polygon points="518.1,720.6 518.1,719.6 519.4,719.6 520.7,719.6 522,719.6 523.3,719.5 524.6,719.5 525.9,719.4 527.2,719.4 528.5,719.3 529.8,719.2 531.1,719.2 532.4,719.1 533.8,719 535.1,718.9 536.4,718.8 537.7,718.7 539,718.6 540.3,718.5 541.6,718.3 542.9,718.1 544.2,717.9 545.5,717.7 546.8,717.4 548.1,717.1 549.5,716.7 550.8,716.4 552.1,716.1 553.4,715.8 554.7,715.4 556,715.1 557.3,714.8 558.6,714.5 559.9,714.2 561.2,713.9 562.5,713.5 563.8,713.2 565.2,712.9 566.5,712.6 567.8,712.3 569.1,712 570.4,711.7 571.7,711.5 573,711.3 574.3,711.1 575.6,710.9 576.9,710.7 578.2,710.6 579.5,710.4 580.8,710.3 582.2,710.2 583.5,710 584.8,709.9 586.1,709.8 587.4,709.7 588.7,709.6 590,709.5 591.3,709.3 592.6,709.2 593.9,709.1 595.2,709 596.5,708.9 597.9,708.7 599.2,708.6 600.5,708.5 601.8,708.4 603.1,708.3 604.4,708.2 605.7,708.1 607,707.9 608.3,707.8 609.6,707.7 610.9,707.6 612.2,707.4 613.6,707.3 614.9,707.1 616.2,707 617.5,706.8 618.8,706.6 620.1,706.3 621.4,706.1 622.7,705.8 624,705.4 625.3,705.1 626.6,704.7 627.9,704.2 629.3,703.8 630.6,703.3 631.9,702.8 633.2,702.3 634.5,701.7 635.8,701.1 637.1,700.4 638.4,699.6 639.7,698.9 641,698 642.3,697.1 643.6,696.2 644.9,695.2 646.3,694.1 647.6,692.9 648.9,691.5 650.2,690.1 651.5,688.6 652.8,687 654.1,685.3 655.4,683.6 656.7,681.9 658,680.1 659.3,678.3 660.6,676.4 662,674.4 663.3,672.4 664.6,670.3 665.9,668.3 667.2,666.3 668.5,664.4 669.8,662.6 671.1,660.9 672.4,659.2 673.7,657.5 675,655.9 676.3,654.3 677.7,653 679,651.9 680.3,650.9 681.6,650.2 682.9,649.6 684.2,649.1 685.5,648.6 686.8,648.3 688.1,648 689.4,648 690.7,648.2 692,648.7 693.4,649.5 694.7,650.6 696,651.9 697.3,653.4 698.6,655 699.9,656.8 701.2,658.8 702.5,661.2 703.8,663.8 705.1,666.5 706.4,669.2 707.7,671.9 709.1,674.5 710.4,677.2 711.7,679.9 713,682.6 714.3,685.3 715.6,687.9 716.9,690.5 718.2,692.9 719.5,695.2 720.8,697.5 722.1,699.7 723.4,701.9 724.7,704 726.1,705.9 727.4,707.7 728.7,709.3 730,710.6 731.3,711.8 732.6,712.9 733.9,713.9 735.2,714.9 736.5,715.7 737.8,716.5 739.1,717.1 740.4,717.6 741.8,718 743.1,718.3 744.4,718.6 745.7,718.9 747,719.1 748.3,719.3 749.6,719.4 750.9,719.5 752.2,719.6 752.2,720.6" fill="#427be2" fill-opacity="0.85"/>
<polyline points="245,719.6 518.1,719.6 519.4,719.6 520.7,719.6 522,719.6 523.3,719.5 524.6,719.5 525.9,719.4 527.2,719.4 528.5,719.3 529.8,719.2 531.1,719.2 532.4,719.1 533.8,719 535.1,718.9 536.4,718.8 537.7,718.7 539,718.6 540.3,718.5 541.6,718.3 542.9,718.1 544.2,717.9 545.5,717.7 546.8,717.4 548.1,717.1 549.5,716.7 550.8,716.4 552.1,716.1 553.4,715.8 554.7,715.4 556,715.1 557.3,714.8 558.6,714.5 559.9,714.2 561.2,713.9 562.5,713.5 563.8,713.2 565.2,712.9 566.5,712.6 567.8,712.3 569.1,712 570.4,711.7 571.7,711.5 573,711.3 574.3,711.1 575.6,710.9 576.9,710.7 578.2,710.6 579.5,710.4 580.8,710.3 582.2,710.2 583.5,710 584.8,709.9 586.1,709.8 587.4,709.7 588.7,709.6 590,709.5 591.3,709.3 592.6,709.2 593.9,709.1 595.2,709 596.5,708.9 597.9,708.7 599.2,708.6 600.5,708.5 601.8,708.4 603.1,708.3 604.4,708.2 605.7,708.1 607,707.9 608.3,707.8 609.6,707.7 610.9,707.6 612.2,707.4 613.6,707.3 614.9,707.1 616.2,707 617.5,706.8 618.8,706.6 620.1,706.3 621.4,706.1 622.7,705.8 624,705.4 625.3,705.1 626.6,704.7 627.9,704.2 629.3,703.8 630.6,703.3 631.9,702.8 633.2,702.3 634.5,701.7 635.8,701.1 637.1,700.4 638.4,699.6 639.7,698.9 641,698 642.3,697.1 643.6,696.2 644.9,695.2 646.3,694.1 647.6,692.9 648.9,691.5 650.2,690.1 651.5,688.6 652.8,687 654.1,685.3 655.4,683.6 656.7,681.9 658,680.1 659.3,678.3 660.6,676.4 662,674.4 663.3,672.4 664.6,670.3 665.9,668.3 667.2,666.3 668.5,664.4 669.8,662.6 671.1,660.9 672.4,659.2 673.7,657.5 675,655.9 676.3,654.3 677.7,653 679,651.9 680.3,650.9 681.6,650.2 682.9,649.6 684.2,649.1 685.5,648.6 686.8,648.3 688.1,648 689.4,648 690.7,648.2 692,648.7 693.4,649.5 694.7,650.6 696,651.9 697.3,653.4 698.6,655 699.9,656.8 701.2,658.8 702.5,661.2 703.8,663.8 705.1,666.5 706.4,669.2 707.7,671.9 709.1,674.5 710.4,677.2 711.7,679.9 713,682.6 714.3,685.3 715.6,687.9 716.9,690.5 718.2,692.9 719.5,695.2 720.8,697.5 722.1,699.7 723.4,701.9 724.7,704 726.1,705.9 727.4,707.7 728.7,709.3 730,710.6 731.3,711.8 732.6,712.9 733.9,713.9 735.2,714.9 736.5,715.7 737.8,716.5 739.1,717.1 740.4,717.6 741.8,718 743.1,718.3 744.4,718.6 745.7,718.9 747,719.1 748.3,719.3 749.6,719.4 750.9,719.5 752.2,719.6 799,719.6" fill="none" stroke="#fff" stroke-opacity="0.92" stroke-width="2" stroke-linejoin="round"/>
<line x1="245" x2="799" y1="719.9" y2="719.9" stroke="#427be2" stroke-opacity="0.7" stroke-width="1.5"/>
<text x="220" y="728.2" font-size="26.3" text-anchor="end" fill="#111">PEX</text>
<polygon points="506.9,765.5 506.9,764.5 508.2,764.5 509.6,764.5 510.9,764.5 512.2,764.5 513.6,764.4 514.9,764.4 516.2,764.4 517.6,764.4 518.9,764.3 520.2,764.3 521.6,764.3 522.9,764.2 524.2,764.2 525.6,764.1 526.9,764.1 528.2,764 529.6,763.9 530.9,763.9 532.2,763.8 533.6,763.8 534.9,763.7 536.2,763.6 537.6,763.5 538.9,763.5 540.2,763.4 541.6,763.3 542.9,763.2 544.2,763 545.6,762.9 546.9,762.7 548.2,762.5 549.6,762.3 550.9,762.1 552.2,761.8 553.6,761.5 554.9,761.3 556.2,761 557.6,760.7 558.9,760.4 560.2,760.1 561.6,759.7 562.9,759.3 564.2,758.9 565.6,758.4 566.9,757.8 568.2,757.3 569.6,756.8 570.9,756.2 572.2,755.7 573.6,755.2 574.9,754.7 576.2,754.2 577.6,753.7 578.9,753.2 580.2,752.8 581.6,752.5 582.9,752.3 584.2,752.1 585.6,752 586.9,752 588.2,751.9 589.6,751.8 590.9,751.8 592.2,751.7 593.6,751.7 594.9,751.6 596.2,751.6 597.6,751.5 598.9,751.4 600.2,751.4 601.6,751.3 602.9,751.3 604.2,751.2 605.6,751.2 606.9,751.1 608.2,751.1 609.6,751 610.9,750.9 612.2,750.8 613.6,750.7 614.9,750.4 616.2,750.1 617.6,749.6 618.9,749 620.2,748.4 621.6,747.6 622.9,746.9 624.2,746.1 625.6,745.2 626.9,744.3 628.2,743.3 629.6,742.3 630.9,741.2 632.2,740 633.5,738.9 634.9,737.8 636.2,736.7 637.5,735.6 638.9,734.6 640.2,733.6 641.5,732.6 642.9,731.6 644.2,730.6 645.5,729.6 646.9,728.6 648.2,727.6 649.5,726.7 650.9,725.7 652.2,724.7 653.5,723.8 654.9,722.8 656.2,721.9 657.5,720.9 658.9,719.9 660.2,718.9 661.5,717.8 662.9,716.6 664.2,715.3 665.5,713.9 666.9,712.3 668.2,710.7 669.5,709.1 670.9,707.6 672.2,706.2 673.5,704.9 674.9,703.7 676.2,702.6 677.5,701.6 678.9,700.6 680.2,699.6 681.5,698.9 682.9,698.3 684.2,697.9 685.5,697.8 686.9,698 688.2,698.4 689.5,699 690.9,699.7 692.2,700.6 693.5,701.6 694.9,702.9 696.2,704.4 697.5,706.4 698.9,708.6 700.2,711 701.5,713.5 702.9,716.1 704.2,718.7 705.5,721.5 706.9,724.4 708.2,727.3 709.5,730.2 710.9,733 712.2,735.6 713.5,738.2 714.9,740.6 716.2,742.9 717.5,745.2 718.9,747.4 720.2,749.4 721.5,751.2 722.9,752.8 724.2,754.3 725.5,755.7 726.9,757 728.2,758.2 729.5,759.4 730.9,760.3 732.2,761.2 733.5,761.8 734.9,762.4 736.2,762.8 737.5,763.2 738.9,763.5 740.2,763.8 741.5,764.1 742.9,764.3 744.2,764.4 745.5,764.5 745.5,765.5" fill="#1e8ceb" fill-opacity="0.85"/>
<polyline points="245,764.5 506.9,764.5 508.2,764.5 509.6,764.5 510.9,764.5 512.2,764.5 513.6,764.4 514.9,764.4 516.2,764.4 517.6,764.4 518.9,764.3 520.2,764.3 521.6,764.3 522.9,764.2 524.2,764.2 525.6,764.1 526.9,764.1 528.2,764 529.6,763.9 530.9,763.9 532.2,763.8 533.6,763.8 534.9,763.7 536.2,763.6 537.6,763.5 538.9,763.5 540.2,763.4 541.6,763.3 542.9,763.2 544.2,763 545.6,762.9 546.9,762.7 548.2,762.5 549.6,762.3 550.9,762.1 552.2,761.8 553.6,761.5 554.9,761.3 556.2,761 557.6,760.7 558.9,760.4 560.2,760.1 561.6,759.7 562.9,759.3 564.2,758.9 565.6,758.4 566.9,757.8 568.2,757.3 569.6,756.8 570.9,756.2 572.2,755.7 573.6,755.2 574.9,754.7 576.2,754.2 577.6,753.7 578.9,753.2 580.2,752.8 581.6,752.5 582.9,752.3 584.2,752.1 585.6,752 586.9,752 588.2,751.9 589.6,751.8 590.9,751.8 592.2,751.7 593.6,751.7 594.9,751.6 596.2,751.6 597.6,751.5 598.9,751.4 600.2,751.4 601.6,751.3 602.9,751.3 604.2,751.2 605.6,751.2 606.9,751.1 608.2,751.1 609.6,751 610.9,750.9 612.2,750.8 613.6,750.7 614.9,750.4 616.2,750.1 617.6,749.6 618.9,749 620.2,748.4 621.6,747.6 622.9,746.9 624.2,746.1 625.6,745.2 626.9,744.3 628.2,743.3 629.6,742.3 630.9,741.2 632.2,740 633.5,738.9 634.9,737.8 636.2,736.7 637.5,735.6 638.9,734.6 640.2,733.6 641.5,732.6 642.9,731.6 644.2,730.6 645.5,729.6 646.9,728.6 648.2,727.6 649.5,726.7 650.9,725.7 652.2,724.7 653.5,723.8 654.9,722.8 656.2,721.9 657.5,720.9 658.9,719.9 660.2,718.9 661.5,717.8 662.9,716.6 664.2,715.3 665.5,713.9 666.9,712.3 668.2,710.7 669.5,709.1 670.9,707.6 672.2,706.2 673.5,704.9 674.9,703.7 676.2,702.6 677.5,701.6 678.9,700.6 680.2,699.6 681.5,698.9 682.9,698.3 684.2,697.9 685.5,697.8 686.9,698 688.2,698.4 689.5,699 690.9,699.7 692.2,700.6 693.5,701.6 694.9,702.9 696.2,704.4 697.5,706.4 698.9,708.6 700.2,711 701.5,713.5 702.9,716.1 704.2,718.7 705.5,721.5 706.9,724.4 708.2,727.3 709.5,730.2 710.9,733 712.2,735.6 713.5,738.2 714.9,740.6 716.2,742.9 717.5,745.2 718.9,747.4 720.2,749.4 721.5,751.2 722.9,752.8 724.2,754.3 725.5,755.7 726.9,757 728.2,758.2 729.5,759.4 730.9,760.3 732.2,761.2 733.5,761.8 734.9,762.4 736.2,762.8 737.5,763.2 738.9,763.5 740.2,763.8 741.5,764.1 742.9,764.3 744.2,764.4 745.5,764.5 799,764.5" fill="none" stroke="#fff" stroke-opacity="0.92" stroke-width="2" stroke-linejoin="round"/>
<line x1="245" x2="799" y1="764.8" y2="764.8" stroke="#1e8ceb" stroke-opacity="0.75" stroke-width="1.5"/>
<text x="220" y="773.1" font-size="26.3" text-anchor="end" fill="#111">MCMC</text>
<polygon points="506.9,810.4 506.9,809.4 508.2,809.4 509.5,809.4 510.8,809.3 512.1,809.3 513.4,809.3 514.8,809.2 516.1,809.2 517.4,809.1 518.7,809 520,808.9 521.3,808.9 522.6,808.8 523.9,808.7 525.2,808.6 526.5,808.5 527.8,808.4 529.1,808.3 530.5,808.1 531.8,808 533.1,807.8 534.4,807.6 535.7,807.4 537,807.1 538.3,806.9 539.6,806.6 540.9,806.3 542.2,806 543.5,805.7 544.8,805.4 546.2,805.1 547.5,804.7 548.8,804.4 550.1,804.1 551.4,803.9 552.7,803.6 554,803.3 555.3,802.9 556.6,802.6 557.9,802.3 559.2,801.9 560.5,801.6 561.8,801.3 563.2,800.9 564.5,800.6 565.8,800.3 567.1,800 568.4,799.7 569.7,799.4 571,799.2 572.3,798.9 573.6,798.7 574.9,798.6 576.2,798.4 577.5,798.2 578.9,798.1 580.2,798 581.5,797.9 582.8,797.7 584.1,797.6 585.4,797.5 586.7,797.4 588,797.3 589.3,797.2 590.6,797.1 591.9,796.9 593.2,796.8 594.6,796.6 595.9,796.5 597.2,796.3 598.5,796.2 599.8,796 601.1,795.8 602.4,795.6 603.7,795.4 605,795.2 606.3,795 607.6,794.7 608.9,794.5 610.3,794.2 611.6,793.9 612.9,793.6 614.2,793.2 615.5,792.9 616.8,792.4 618.1,791.9 619.4,791.4 620.7,790.8 622,790.1 623.3,789.4 624.6,788.7 625.9,787.9 627.3,787.1 628.6,786.2 629.9,785.2 631.2,784.2 632.5,783.1 633.8,781.9 635.1,780.6 636.4,779.3 637.7,777.9 639,776.6 640.3,775.2 641.6,773.8 643,772.3 644.3,770.7 645.6,769.1 646.9,767.5 648.2,765.8 649.5,764.2 650.8,762.7 652.1,761.2 653.4,759.7 654.7,758.2 656,756.7 657.3,755.2 658.7,753.9 660,752.6 661.3,751.6 662.6,750.7 663.9,749.9 665.2,749.2 666.5,748.6 667.8,748 669.1,747.5 670.4,747 671.7,746.6 673,746.3 674.4,746.1 675.7,746 677,746 678.3,746.1 679.6,746.4 680.9,746.8 682.2,747.4 683.5,748 684.8,748.7 686.1,749.5 687.4,750.4 688.7,751.4 690.1,752.7 691.4,754.2 692.7,755.9 694,757.8 695.3,759.7 696.6,761.7 697.9,763.8 699.2,766 700.5,768.4 701.8,770.9 703.1,773.3 704.4,775.8 705.7,778.2 707.1,780.5 708.4,782.7 709.7,784.9 711,787.1 712.3,789.2 713.6,791.3 714.9,793.2 716.2,795.1 717.5,796.7 718.8,798.2 720.1,799.6 721.4,801 722.8,802.2 724.1,803.4 725.4,804.5 726.7,805.4 728,806.2 729.3,806.8 730.6,807.3 731.9,807.8 733.2,808.1 734.5,808.5 735.8,808.8 737.1,809 738.5,809.2 739.8,809.3 741.1,809.4 741.1,810.4" fill="#0ba8f6" fill-opacity="0.85"/>
<polyline points="245,809.4 506.9,809.4 508.2,809.4 509.5,809.4 510.8,809.3 512.1,809.3 513.4,809.3 514.8,809.2 516.1,809.2 517.4,809.1 518.7,809 520,808.9 521.3,808.9 522.6,808.8 523.9,808.7 525.2,808.6 526.5,808.5 527.8,808.4 529.1,808.3 530.5,808.1 531.8,808 533.1,807.8 534.4,807.6 535.7,807.4 537,807.1 538.3,806.9 539.6,806.6 540.9,806.3 542.2,806 543.5,805.7 544.8,805.4 546.2,805.1 547.5,804.7 548.8,804.4 550.1,804.1 551.4,803.9 552.7,803.6 554,803.3 555.3,802.9 556.6,802.6 557.9,802.3 559.2,801.9 560.5,801.6 561.8,801.3 563.2,800.9 564.5,800.6 565.8,800.3 567.1,800 568.4,799.7 569.7,799.4 571,799.2 572.3,798.9 573.6,798.7 574.9,798.6 576.2,798.4 577.5,798.2 578.9,798.1 580.2,798 581.5,797.9 582.8,797.7 584.1,797.6 585.4,797.5 586.7,797.4 588,797.3 589.3,797.2 590.6,797.1 591.9,796.9 593.2,796.8 594.6,796.6 595.9,796.5 597.2,796.3 598.5,796.2 599.8,796 601.1,795.8 602.4,795.6 603.7,795.4 605,795.2 606.3,795 607.6,794.7 608.9,794.5 610.3,794.2 611.6,793.9 612.9,793.6 614.2,793.2 615.5,792.9 616.8,792.4 618.1,791.9 619.4,791.4 620.7,790.8 622,790.1 623.3,789.4 624.6,788.7 625.9,787.9 627.3,787.1 628.6,786.2 629.9,785.2 631.2,784.2 632.5,783.1 633.8,781.9 635.1,780.6 636.4,779.3 637.7,777.9 639,776.6 640.3,775.2 641.6,773.8 643,772.3 644.3,770.7 645.6,769.1 646.9,767.5 648.2,765.8 649.5,764.2 650.8,762.7 652.1,761.2 653.4,759.7 654.7,758.2 656,756.7 657.3,755.2 658.7,753.9 660,752.6 661.3,751.6 662.6,750.7 663.9,749.9 665.2,749.2 666.5,748.6 667.8,748 669.1,747.5 670.4,747 671.7,746.6 673,746.3 674.4,746.1 675.7,746 677,746 678.3,746.1 679.6,746.4 680.9,746.8 682.2,747.4 683.5,748 684.8,748.7 686.1,749.5 687.4,750.4 688.7,751.4 690.1,752.7 691.4,754.2 692.7,755.9 694,757.8 695.3,759.7 696.6,761.7 697.9,763.8 699.2,766 700.5,768.4 701.8,770.9 703.1,773.3 704.4,775.8 705.7,778.2 707.1,780.5 708.4,782.7 709.7,784.9 711,787.1 712.3,789.2 713.6,791.3 714.9,793.2 716.2,795.1 717.5,796.7 718.8,798.2 720.1,799.6 721.4,801 722.8,802.2 724.1,803.4 725.4,804.5 726.7,805.4 728,806.2 729.3,806.8 730.6,807.3 731.9,807.8 733.2,808.1 734.5,808.5 735.8,808.8 737.1,809 738.5,809.2 739.8,809.3 741.1,809.4 799,809.4" fill="none" stroke="#fff" stroke-opacity="0.92" stroke-width="2" stroke-linejoin="round"/>
<line x1="245" x2="799" y1="809.7" y2="809.7" stroke="#0ba8f6" stroke-opacity="0.75" stroke-width="1.5"/>
<text x="220" y="818" font-size="26.3" text-anchor="end" fill="#111">AdaLead</text>
<polygon points="246,855.3 246,853.9 248.9,853.8 251.9,853.8 254.8,853.8 257.8,853.8 260.7,853.8 263.7,853.8 266.6,853.8 269.6,853.8 272.6,853.7 275.5,853.7 278.5,853.7 281.4,853.7 284.4,853.6 287.3,853.6 290.3,853.6 293.2,853.6 296.2,853.5 299.1,853.5 302.1,853.5 305,853.5 308,853.4 310.9,853.4 313.9,853.4 316.8,853.3 319.8,853.3 322.7,853.3 325.7,853.2 328.7,853.2 331.6,853.1 334.6,853.1 337.5,853 340.5,853 343.4,852.9 346.4,852.8 349.3,852.8 352.3,852.7 355.2,852.7 358.2,852.6 361.1,852.5 364.1,852.5 367,852.4 370,852.3 372.9,852.3 375.9,852.2 378.9,852.1 381.8,852 384.8,852 387.7,851.9 390.7,851.8 393.6,851.8 396.6,851.7 399.5,851.6 402.5,851.5 405.4,851.5 408.4,851.4 411.3,851.3 414.3,851.2 417.2,851.2 420.2,851.1 423.1,851 426.1,850.9 429,850.8 432,850.8 435,850.7 437.9,850.6 440.9,850.5 443.8,850.4 446.8,850.3 449.7,850.2 452.7,850.1 455.6,849.9 458.6,849.8 461.5,849.7 464.5,849.5 467.4,849.3 470.4,849.1 473.3,848.9 476.3,848.7 479.2,848.4 482.2,848.1 485.2,847.8 488.1,847.4 491.1,847.1 494,846.7 497,846.4 499.9,846 502.9,845.5 505.8,845.1 508.8,844.6 511.7,844.1 514.7,843.5 517.6,842.9 520.6,842.3 523.5,841.7 526.5,841.1 529.4,840.4 532.4,839.7 535.3,839.1 538.3,838.4 541.3,837.7 544.2,837 547.2,836.3 550.1,835.7 553.1,835 556,834.4 559,833.9 561.9,833.3 564.9,832.8 567.8,832.2 570.8,831.8 573.7,831.4 576.7,831 579.6,830.6 582.6,830.3 585.5,830 588.5,829.7 591.5,829.5 594.4,829.2 597.4,829 600.3,828.8 603.3,828.7 606.2,828.5 609.2,828.4 612.1,828.2 615.1,828.1 618,828 621,827.9 623.9,827.8 626.9,827.8 629.8,827.7 632.8,827.6 635.7,827.6 638.7,827.6 641.6,827.6 644.6,827.7 647.6,827.8 650.5,828 653.5,828.2 656.4,828.5 659.4,828.8 662.3,829.2 665.3,829.6 668.2,830.1 671.2,830.7 674.1,831.4 677.1,832.1 680,833 683,833.9 685.9,834.9 688.9,835.9 691.8,837 694.8,838.1 697.8,839.1 700.7,840.2 703.7,841.3 706.6,842.3 709.6,843.4 712.5,844.4 715.5,845.4 718.4,846.4 721.4,847.3 724.3,848.2 727.3,849.1 730.2,849.9 733.2,850.6 736.1,851.2 739.1,851.7 742,852.2 745,852.5 747.9,852.9 750.9,853.2 753.9,853.4 756.8,853.6 759.8,853.8 762.7,853.9 765.7,854.1 768.6,854.2 771.6,854.2 774.5,854.3 774.5,855.3" fill="#15baf7" fill-opacity="0.85"/>
<polyline points="245,854.3 246,853.9 248.9,853.8 251.9,853.8 254.8,853.8 257.8,853.8 260.7,853.8 263.7,853.8 266.6,853.8 269.6,853.8 272.6,853.7 275.5,853.7 278.5,853.7 281.4,853.7 284.4,853.6 287.3,853.6 290.3,853.6 293.2,853.6 296.2,853.5 299.1,853.5 302.1,853.5 305,853.5 308,853.4 310.9,853.4 313.9,853.4 316.8,853.3 319.8,853.3 322.7,853.3 325.7,853.2 328.7,853.2 331.6,853.1 334.6,853.1 337.5,853 340.5,853 343.4,852.9 346.4,852.8 349.3,852.8 352.3,852.7 355.2,852.7 358.2,852.6 361.1,852.5 364.1,852.5 367,852.4 370,852.3 372.9,852.3 375.9,852.2 378.9,852.1 381.8,852 384.8,852 387.7,851.9 390.7,851.8 393.6,851.8 396.6,851.7 399.5,851.6 402.5,851.5 405.4,851.5 408.4,851.4 411.3,851.3 414.3,851.2 417.2,851.2 420.2,851.1 423.1,851 426.1,850.9 429,850.8 432,850.8 435,850.7 437.9,850.6 440.9,850.5 443.8,850.4 446.8,850.3 449.7,850.2 452.7,850.1 455.6,849.9 458.6,849.8 461.5,849.7 464.5,849.5 467.4,849.3 470.4,849.1 473.3,848.9 476.3,848.7 479.2,848.4 482.2,848.1 485.2,847.8 488.1,847.4 491.1,847.1 494,846.7 497,846.4 499.9,846 502.9,845.5 505.8,845.1 508.8,844.6 511.7,844.1 514.7,843.5 517.6,842.9 520.6,842.3 523.5,841.7 526.5,841.1 529.4,840.4 532.4,839.7 535.3,839.1 538.3,838.4 541.3,837.7 544.2,837 547.2,836.3 550.1,835.7 553.1,835 556,834.4 559,833.9 561.9,833.3 564.9,832.8 567.8,832.2 570.8,831.8 573.7,831.4 576.7,831 579.6,830.6 582.6,830.3 585.5,830 588.5,829.7 591.5,829.5 594.4,829.2 597.4,829 600.3,828.8 603.3,828.7 606.2,828.5 609.2,828.4 612.1,828.2 615.1,828.1 618,828 621,827.9 623.9,827.8 626.9,827.8 629.8,827.7 632.8,827.6 635.7,827.6 638.7,827.6 641.6,827.6 644.6,827.7 647.6,827.8 650.5,828 653.5,828.2 656.4,828.5 659.4,828.8 662.3,829.2 665.3,829.6 668.2,830.1 671.2,830.7 674.1,831.4 677.1,832.1 680,833 683,833.9 685.9,834.9 688.9,835.9 691.8,837 694.8,838.1 697.8,839.1 700.7,840.2 703.7,841.3 706.6,842.3 709.6,843.4 712.5,844.4 715.5,845.4 718.4,846.4 721.4,847.3 724.3,848.2 727.3,849.1 730.2,849.9 733.2,850.6 736.1,851.2 739.1,851.7 742,852.2 745,852.5 747.9,852.9 750.9,853.2 753.9,853.4 756.8,853.6 759.8,853.8 762.7,853.9 765.7,854.1 768.6,854.2 771.6,854.2 774.5,854.3 799,854.3" fill="none" stroke="#fff" stroke-opacity="0.92" stroke-width="2" stroke-linejoin="round"/>
<line x1="245" x2="799" y1="854.6" y2="854.6" stroke="#15baf7" stroke-opacity="0.9" stroke-width="2.6"/>
<text x="220" y="862.9" font-size="26.3" text-anchor="end" fill="#111">DyNA-PPO</text>
<polygon points="246,900.2 246,899.2 248.8,899.2 251.6,899.2 254.4,899.2 257.2,899.1 260,899.1 262.8,899.1 265.6,899.1 268.4,899.1 271.2,899.1 274,899.1 276.8,899 279.6,899 282.4,899 285.2,899 288,899 290.8,899 293.6,899 296.4,899 299.2,898.9 302,898.9 304.8,898.9 307.6,898.9 310.5,898.9 313.3,898.9 316.1,898.9 318.9,898.9 321.7,898.9 324.5,898.8 327.3,898.8 330.1,898.8 332.9,898.8 335.7,898.8 338.5,898.8 341.3,898.8 344.1,898.8 346.9,898.8 349.7,898.8 352.5,898.7 355.3,898.7 358.1,898.7 360.9,898.7 363.7,898.7 366.5,898.7 369.3,898.7 372.1,898.7 374.9,898.7 377.7,898.7 380.5,898.7 383.3,898.7 386.1,898.7 388.9,898.7 391.7,898.7 394.5,898.7 397.4,898.7 400.2,898.7 403,898.6 405.8,898.6 408.6,898.6 411.4,898.6 414.2,898.6 417,898.6 419.8,898.6 422.6,898.6 425.4,898.6 428.2,898.6 431,898.6 433.8,898.6 436.6,898.5 439.4,898.5 442.2,898.5 445,898.5 447.8,898.4 450.6,898.3 453.4,898.2 456.2,898.2 459,898.1 461.8,898 464.6,897.9 467.4,897.8 470.2,897.7 473,897.6 475.8,897.5 478.6,897.5 481.5,897.4 484.3,897.4 487.1,897.4 489.9,897.4 492.7,897.4 495.5,897.4 498.3,897.4 501.1,897.4 503.9,897.4 506.7,897.4 509.5,897.4 512.3,897.4 515.1,897.4 517.9,897.4 520.7,897.4 523.5,897.4 526.3,897.4 529.1,897.4 531.9,897.3 534.7,897.2 537.5,897.1 540.3,896.9 543.1,896.6 545.9,896.4 548.7,896.1 551.5,895.8 554.3,895.5 557.1,895.2 559.9,894.8 562.7,894.4 565.5,894 568.4,893.5 571.2,893 574,892.5 576.8,891.9 579.6,891.3 582.4,890.6 585.2,889.9 588,889.2 590.8,888.4 593.6,887.6 596.4,886.9 599.2,886.1 602,885.3 604.8,884.5 607.6,883.6 610.4,882.6 613.2,881.5 616,880.3 618.8,878.9 621.6,877.4 624.4,875.7 627.2,873.9 630,872.1 632.8,870.1 635.6,868 638.4,865.8 641.2,863.5 644,861 646.8,858.4 649.6,855.6 652.4,852.8 655.3,850 658.1,847.4 660.9,845 663.7,842.8 666.5,840.9 669.3,839.3 672.1,838.1 674.9,837.1 677.7,836.5 680.5,836.1 683.3,836.1 686.1,836.7 688.9,837.9 691.7,839.7 694.5,842.2 697.3,845.5 700.1,849.6 702.9,854.3 705.7,859.3 708.5,864.3 711.3,869.3 714.1,874 716.9,878.3 719.7,882.2 722.5,885.7 725.3,888.7 728.1,891.3 730.9,893.5 733.7,895.3 736.5,896.7 739.4,897.6 742.2,898.4 745,898.8 747.8,899.1 747.8,900.2" fill="#3fc2f7" fill-opacity="0.85"/>
<polyline points="245,899.2 246,899.2 248.8,899.2 251.6,899.2 254.4,899.2 257.2,899.1 260,899.1 262.8,899.1 265.6,899.1 268.4,899.1 271.2,899.1 274,899.1 276.8,899 279.6,899 282.4,899 285.2,899 288,899 290.8,899 293.6,899 296.4,899 299.2,898.9 302,898.9 304.8,898.9 307.6,898.9 310.5,898.9 313.3,898.9 316.1,898.9 318.9,898.9 321.7,898.9 324.5,898.8 327.3,898.8 330.1,898.8 332.9,898.8 335.7,898.8 338.5,898.8 341.3,898.8 344.1,898.8 346.9,898.8 349.7,898.8 352.5,898.7 355.3,898.7 358.1,898.7 360.9,898.7 363.7,898.7 366.5,898.7 369.3,898.7 372.1,898.7 374.9,898.7 377.7,898.7 380.5,898.7 383.3,898.7 386.1,898.7 388.9,898.7 391.7,898.7 394.5,898.7 397.4,898.7 400.2,898.7 403,898.6 405.8,898.6 408.6,898.6 411.4,898.6 414.2,898.6 417,898.6 419.8,898.6 422.6,898.6 425.4,898.6 428.2,898.6 431,898.6 433.8,898.6 436.6,898.5 439.4,898.5 442.2,898.5 445,898.5 447.8,898.4 450.6,898.3 453.4,898.2 456.2,898.2 459,898.1 461.8,898 464.6,897.9 467.4,897.8 470.2,897.7 473,897.6 475.8,897.5 478.6,897.5 481.5,897.4 484.3,897.4 487.1,897.4 489.9,897.4 492.7,897.4 495.5,897.4 498.3,897.4 501.1,897.4 503.9,897.4 506.7,897.4 509.5,897.4 512.3,897.4 515.1,897.4 517.9,897.4 520.7,897.4 523.5,897.4 526.3,897.4 529.1,897.4 531.9,897.3 534.7,897.2 537.5,897.1 540.3,896.9 543.1,896.6 545.9,896.4 548.7,896.1 551.5,895.8 554.3,895.5 557.1,895.2 559.9,894.8 562.7,894.4 565.5,894 568.4,893.5 571.2,893 574,892.5 576.8,891.9 579.6,891.3 582.4,890.6 585.2,889.9 588,889.2 590.8,888.4 593.6,887.6 596.4,886.9 599.2,886.1 602,885.3 604.8,884.5 607.6,883.6 610.4,882.6 613.2,881.5 616,880.3 618.8,878.9 621.6,877.4 624.4,875.7 627.2,873.9 630,872.1 632.8,870.1 635.6,868 638.4,865.8 641.2,863.5 644,861 646.8,858.4 649.6,855.6 652.4,852.8 655.3,850 658.1,847.4 660.9,845 663.7,842.8 666.5,840.9 669.3,839.3 672.1,838.1 674.9,837.1 677.7,836.5 680.5,836.1 683.3,836.1 686.1,836.7 688.9,837.9 691.7,839.7 694.5,842.2 697.3,845.5 700.1,849.6 702.9,854.3 705.7,859.3 708.5,864.3 711.3,869.3 714.1,874 716.9,878.3 719.7,882.2 722.5,885.7 725.3,888.7 728.1,891.3 730.9,893.5 733.7,895.3 736.5,896.7 739.4,897.6 742.2,898.4 745,898.8 747.8,899.1 799,899.2" fill="none" stroke="#fff" stroke-opacity="0.92" stroke-width="2" stroke-linejoin="round"/>
<line x1="245" x2="799" y1="899.5" y2="899.5" stroke="#3fc2f7" stroke-opacity="0.5" stroke-width="3.0"/>
<text x="220" y="907.8" font-size="26.3" text-anchor="end" fill="#111">CbAS</text>
<polygon points="484.6,945.1 484.6,944.1 486,944.1 487.5,944.1 488.9,944 490.4,944 491.8,944 493.3,944 494.7,943.9 496.2,943.9 497.6,943.9 499.1,943.8 500.5,943.8 501.9,943.8 503.4,943.7 504.8,943.7 506.3,943.7 507.7,943.6 509.2,943.6 510.6,943.6 512.1,943.5 513.5,943.5 515,943.4 516.4,943.4 517.8,943.3 519.3,943.3 520.7,943.3 522.2,943.2 523.6,943.2 525.1,943.1 526.5,943.1 528,943 529.4,943 530.9,942.9 532.3,942.9 533.7,942.8 535.2,942.8 536.6,942.7 538.1,942.7 539.5,942.6 541,942.6 542.4,942.5 543.9,942.4 545.3,942.4 546.7,942.3 548.2,942.2 549.6,942.2 551.1,942.1 552.5,942 554,941.9 555.4,941.9 556.9,941.8 558.3,941.7 559.8,941.6 561.2,941.5 562.6,941.4 564.1,941.3 565.5,941.2 567,941.1 568.4,941 569.9,940.9 571.3,940.8 572.8,940.6 574.2,940.5 575.7,940.3 577.1,940.2 578.5,940 580,939.8 581.4,939.7 582.9,939.5 584.3,939.3 585.8,939.1 587.2,938.8 588.7,938.6 590.1,938.3 591.6,937.9 593,937.6 594.4,937.3 595.9,936.9 597.3,936.5 598.8,936.1 600.2,935.7 601.7,935.3 603.1,934.9 604.6,934.4 606,933.9 607.4,933.4 608.9,932.9 610.3,932.3 611.8,931.7 613.2,931 614.7,930.3 616.1,929.5 617.6,928.7 619,927.7 620.5,926.7 621.9,925.6 623.3,924.4 624.8,923.1 626.2,921.7 627.7,920.1 629.1,918.3 630.6,916.5 632,914.5 633.5,912.4 634.9,910.4 636.4,908.2 637.8,906 639.2,903.7 640.7,901.4 642.1,899 643.6,896.6 645,894.3 646.5,892 647.9,889.8 649.4,887.7 650.8,885.6 652.3,883.5 653.7,881.5 655.1,879.7 656.6,878.1 658,876.7 659.5,875.4 660.9,874.3 662.4,873.2 663.8,872.2 665.3,871.3 666.7,870.5 668.1,869.9 669.6,869.4 671,869.2 672.5,869.2 673.9,869.5 675.4,870 676.8,870.9 678.3,871.9 679.7,873 681.2,874.3 682.6,875.8 684,877.4 685.5,879.5 686.9,881.9 688.4,884.5 689.8,887.4 691.3,890.3 692.7,893.2 694.2,896.2 695.6,899.4 697.1,902.5 698.5,905.6 699.9,908.6 701.4,911.4 702.8,914 704.3,916.6 705.7,919 707.2,921.4 708.6,923.6 710.1,925.7 711.5,927.7 713,929.5 714.4,931.3 715.8,933 717.3,934.6 718.7,936.1 720.2,937.4 721.6,938.5 723.1,939.4 724.5,940.2 726,940.9 727.4,941.5 728.8,942 730.3,942.5 731.7,942.9 733.2,943.2 734.6,943.4 736.1,943.6 737.5,943.8 739,943.9 740.4,944 741.9,944.1 743.3,944.1 743.3,945.1" fill="#68cbf7" fill-opacity="0.85"/>
<polyline points="245,944.1 484.6,944.1 486,944.1 487.5,944.1 488.9,944 490.4,944 491.8,944 493.3,944 494.7,943.9 496.2,943.9 497.6,943.9 499.1,943.8 500.5,943.8 501.9,943.8 503.4,943.7 504.8,943.7 506.3,943.7 507.7,943.6 509.2,943.6 510.6,943.6 512.1,943.5 513.5,943.5 515,943.4 516.4,943.4 517.8,943.3 519.3,943.3 520.7,943.3 522.2,943.2 523.6,943.2 525.1,943.1 526.5,943.1 528,943 529.4,943 530.9,942.9 532.3,942.9 533.7,942.8 535.2,942.8 536.6,942.7 538.1,942.7 539.5,942.6 541,942.6 542.4,942.5 543.9,942.4 545.3,942.4 546.7,942.3 548.2,942.2 549.6,942.2 551.1,942.1 552.5,942 554,941.9 555.4,941.9 556.9,941.8 558.3,941.7 559.8,941.6 561.2,941.5 562.6,941.4 564.1,941.3 565.5,941.2 567,941.1 568.4,941 569.9,940.9 571.3,940.8 572.8,940.6 574.2,940.5 575.7,940.3 577.1,940.2 578.5,940 580,939.8 581.4,939.7 582.9,939.5 584.3,939.3 585.8,939.1 587.2,938.8 588.7,938.6 590.1,938.3 591.6,937.9 593,937.6 594.4,937.3 595.9,936.9 597.3,936.5 598.8,936.1 600.2,935.7 601.7,935.3 603.1,934.9 604.6,934.4 606,933.9 607.4,933.4 608.9,932.9 610.3,932.3 611.8,931.7 613.2,931 614.7,930.3 616.1,929.5 617.6,928.7 619,927.7 620.5,926.7 621.9,925.6 623.3,924.4 624.8,923.1 626.2,921.7 627.7,920.1 629.1,918.3 630.6,916.5 632,914.5 633.5,912.4 634.9,910.4 636.4,908.2 637.8,906 639.2,903.7 640.7,901.4 642.1,899 643.6,896.6 645,894.3 646.5,892 647.9,889.8 649.4,887.7 650.8,885.6 652.3,883.5 653.7,881.5 655.1,879.7 656.6,878.1 658,876.7 659.5,875.4 660.9,874.3 662.4,873.2 663.8,872.2 665.3,871.3 666.7,870.5 668.1,869.9 669.6,869.4 671,869.2 672.5,869.2 673.9,869.5 675.4,870 676.8,870.9 678.3,871.9 679.7,873 681.2,874.3 682.6,875.8 684,877.4 685.5,879.5 686.9,881.9 688.4,884.5 689.8,887.4 691.3,890.3 692.7,893.2 694.2,896.2 695.6,899.4 697.1,902.5 698.5,905.6 699.9,908.6 701.4,911.4 702.8,914 704.3,916.6 705.7,919 707.2,921.4 708.6,923.6 710.1,925.7 711.5,927.7 713,929.5 714.4,931.3 715.8,933 717.3,934.6 718.7,936.1 720.2,937.4 721.6,938.5 723.1,939.4 724.5,940.2 726,940.9 727.4,941.5 728.8,942 730.3,942.5 731.7,942.9 733.2,943.2 734.6,943.4 736.1,943.6 737.5,943.8 739,943.9 740.4,944 741.9,944.1 743.3,944.1 799,944.1" fill="none" stroke="#fff" stroke-opacity="0.92" stroke-width="2" stroke-linejoin="round"/>
<line x1="245" x2="799" y1="944.4" y2="944.4" stroke="#68cbf7" stroke-opacity="0.6" stroke-width="1.6"/>
<text x="220" y="952.7" font-size="26.3" text-anchor="end" fill="#111">CMA-ES</text>
<polygon points="462.3,990 462.3,989 463.9,989 465.5,988.9 467.2,988.9 468.8,988.9 470.4,988.8 472,988.8 473.6,988.8 475.3,988.7 476.9,988.7 478.5,988.6 480.1,988.6 481.7,988.6 483.4,988.5 485,988.5 486.6,988.4 488.2,988.4 489.8,988.4 491.5,988.3 493.1,988.3 494.7,988.2 496.3,988.2 497.9,988.1 499.6,988.1 501.2,988 502.8,988 504.4,988 506,987.9 507.7,987.9 509.3,987.8 510.9,987.8 512.5,987.7 514.1,987.7 515.8,987.6 517.4,987.6 519,987.5 520.6,987.5 522.2,987.5 523.8,987.4 525.5,987.4 527.1,987.3 528.7,987.3 530.3,987.2 531.9,987.2 533.6,987.1 535.2,987 536.8,987 538.4,986.9 540,986.9 541.7,986.8 543.3,986.7 544.9,986.7 546.5,986.6 548.1,986.5 549.8,986.4 551.4,986.3 553,986.2 554.6,986.1 556.2,986 557.9,985.9 559.5,985.7 561.1,985.6 562.7,985.4 564.3,985.3 566,985.1 567.6,984.9 569.2,984.7 570.8,984.5 572.4,984.3 574.1,984 575.7,983.8 577.3,983.5 578.9,983.2 580.5,982.9 582.2,982.5 583.8,982.2 585.4,981.8 587,981.4 588.6,980.9 590.3,980.5 591.9,980 593.5,979.4 595.1,978.9 596.7,978.2 598.4,977.5 600,976.8 601.6,976.1 603.2,975.3 604.8,974.5 606.5,973.8 608.1,973 609.7,972.2 611.3,971.4 612.9,970.6 614.5,969.8 616.2,969 617.8,968.2 619.4,967.3 621,966.5 622.6,965.7 624.3,964.9 625.9,964.1 627.5,963.4 629.1,962.6 630.7,961.8 632.4,961 634,960.2 635.6,959.2 637.2,958.2 638.8,957.1 640.5,955.9 642.1,954.6 643.7,953.3 645.3,951.9 646.9,950.3 648.6,948.6 650.2,946.8 651.8,944.8 653.4,942.8 655,940.8 656.7,938.8 658.3,936.9 659.9,935.2 661.5,933.4 663.1,931.7 664.8,930.2 666.4,928.8 668,927.6 669.6,926.8 671.2,926.1 672.9,925.6 674.5,925.1 676.1,924.8 677.7,924.6 679.3,924.5 681,924.7 682.6,925.2 684.2,925.9 685.8,926.9 687.4,928.1 689.1,929.5 690.7,931.1 692.3,933 693.9,935.4 695.5,938 697.2,940.7 698.8,943.4 700.4,946.2 702,949 703.6,951.9 705.3,954.8 706.9,957.6 708.5,960.3 710.1,963 711.7,965.6 713.3,968.2 715,970.6 716.6,972.8 718.2,974.8 719.8,976.6 721.4,978.2 723.1,979.7 724.7,981 726.3,982.3 727.9,983.3 729.5,984.3 731.2,985.1 732.8,985.8 734.4,986.5 736,987.1 737.6,987.6 739.3,988 740.9,988.2 742.5,988.4 744.1,988.6 745.7,988.7 747.4,988.8 749,988.9 750.6,989 752.2,989 752.2,990" fill="#94d2f7" fill-opacity="0.85"/>
<polyline points="245,989 462.3,989 463.9,989 465.5,988.9 467.2,988.9 468.8,988.9 470.4,988.8 472,988.8 473.6,988.8 475.3,988.7 476.9,988.7 478.5,988.6 480.1,988.6 481.7,988.6 483.4,988.5 485,988.5 486.6,988.4 488.2,988.4 489.8,988.4 491.5,988.3 493.1,988.3 494.7,988.2 496.3,988.2 497.9,988.1 499.6,988.1 501.2,988 502.8,988 504.4,988 506,987.9 507.7,987.9 509.3,987.8 510.9,987.8 512.5,987.7 514.1,987.7 515.8,987.6 517.4,987.6 519,987.5 520.6,987.5 522.2,987.5 523.8,987.4 525.5,987.4 527.1,987.3 528.7,987.3 530.3,987.2 531.9,987.2 533.6,987.1 535.2,987 536.8,987 538.4,986.9 540,986.9 541.7,986.8 543.3,986.7 544.9,986.7 546.5,986.6 548.1,986.5 549.8,986.4 551.4,986.3 553,986.2 554.6,986.1 556.2,986 557.9,985.9 559.5,985.7 561.1,985.6 562.7,985.4 564.3,985.3 566,985.1 567.6,984.9 569.2,984.7 570.8,984.5 572.4,984.3 574.1,984 575.7,983.8 577.3,983.5 578.9,983.2 580.5,982.9 582.2,982.5 583.8,982.2 585.4,981.8 587,981.4 588.6,980.9 590.3,980.5 591.9,980 593.5,979.4 595.1,978.9 596.7,978.2 598.4,977.5 600,976.8 601.6,976.1 603.2,975.3 604.8,974.5 606.5,973.8 608.1,973 609.7,972.2 611.3,971.4 612.9,970.6 614.5,969.8 616.2,969 617.8,968.2 619.4,967.3 621,966.5 622.6,965.7 624.3,964.9 625.9,964.1 627.5,963.4 629.1,962.6 630.7,961.8 632.4,961 634,960.2 635.6,959.2 637.2,958.2 638.8,957.1 640.5,955.9 642.1,954.6 643.7,953.3 645.3,951.9 646.9,950.3 648.6,948.6 650.2,946.8 651.8,944.8 653.4,942.8 655,940.8 656.7,938.8 658.3,936.9 659.9,935.2 661.5,933.4 663.1,931.7 664.8,930.2 666.4,928.8 668,927.6 669.6,926.8 671.2,926.1 672.9,925.6 674.5,925.1 676.1,924.8 677.7,924.6 679.3,924.5 681,924.7 682.6,925.2 684.2,925.9 685.8,926.9 687.4,928.1 689.1,929.5 690.7,931.1 692.3,933 693.9,935.4 695.5,938 697.2,940.7 698.8,943.4 700.4,946.2 702,949 703.6,951.9 705.3,954.8 706.9,957.6 708.5,960.3 710.1,963 711.7,965.6 713.3,968.2 715,970.6 716.6,972.8 718.2,974.8 719.8,976.6 721.4,978.2 723.1,979.7 724.7,981 726.3,982.3 727.9,983.3 729.5,984.3 731.2,985.1 732.8,985.8 734.4,986.5 736,987.1 737.6,987.6 739.3,988 740.9,988.2 742.5,988.4 744.1,988.6 745.7,988.7 747.4,988.8 749,988.9 750.6,989 752.2,989 799,989" fill="none" stroke="#fff" stroke-opacity="0.92" stroke-width="2" stroke-linejoin="round"/>
<line x1="245" x2="799" y1="989.3" y2="989.3" stroke="#94d2f7" stroke-opacity="0.5" stroke-width="2.4"/>
<text x="220" y="997.6" font-size="26.3" text-anchor="end" fill="#111">BO</text>
<polygon points="495.8,1034.9 495.8,1033.9 497.1,1033.8 498.5,1033.8 499.9,1033.7 501.3,1033.6 502.7,1033.6 504.1,1033.5 505.4,1033.4 506.8,1033.4 508.2,1033.3 509.6,1033.2 511,1033.1 512.3,1033.1 513.7,1033 515.1,1032.9 516.5,1032.8 517.9,1032.8 519.3,1032.7 520.6,1032.6 522,1032.5 523.4,1032.5 524.8,1032.4 526.2,1032.3 527.6,1032.2 528.9,1032.1 530.3,1032 531.7,1032 533.1,1031.9 534.5,1031.8 535.9,1031.7 537.2,1031.6 538.6,1031.6 540,1031.5 541.4,1031.4 542.8,1031.3 544.2,1031.2 545.5,1031.1 546.9,1031 548.3,1030.9 549.7,1030.8 551.1,1030.7 552.5,1030.7 553.8,1030.6 555.2,1030.5 556.6,1030.4 558,1030.2 559.4,1030.1 560.8,1030 562.1,1029.9 563.5,1029.8 564.9,1029.7 566.3,1029.6 567.7,1029.5 569,1029.4 570.4,1029.2 571.8,1029.1 573.2,1029 574.6,1028.8 576,1028.7 577.3,1028.6 578.7,1028.4 580.1,1028.3 581.5,1028.1 582.9,1027.9 584.3,1027.7 585.6,1027.5 587,1027.3 588.4,1027.1 589.8,1026.9 591.2,1026.6 592.6,1026.4 593.9,1026.1 595.3,1025.8 596.7,1025.5 598.1,1025.1 599.5,1024.8 600.9,1024.4 602.2,1024.1 603.6,1023.7 605,1023.3 606.4,1022.9 607.8,1022.4 609.2,1022 610.5,1021.5 611.9,1021 613.3,1020.5 614.7,1019.9 616.1,1019.3 617.5,1018.7 618.8,1018 620.2,1017.3 621.6,1016.6 623,1015.7 624.4,1014.8 625.8,1013.9 627.1,1012.9 628.5,1011.9 629.9,1010.8 631.3,1009.7 632.7,1008.6 634,1007.4 635.4,1006.1 636.8,1004.8 638.2,1003.4 639.6,1002 641,1000.5 642.3,999 643.7,997.5 645.1,996 646.5,994.5 647.9,992.8 649.3,991.2 650.6,989.5 652,987.8 653.4,986.1 654.8,984.5 656.2,982.9 657.6,981.4 658.9,980 660.3,978.7 661.7,977.4 663.1,976.1 664.5,974.9 665.9,973.8 667.2,972.9 668.6,972.1 670,971.4 671.4,970.8 672.8,970.3 674.2,969.8 675.5,969.4 676.9,969.1 678.3,968.8 679.7,968.7 681.1,968.7 682.5,968.8 683.8,969.2 685.2,969.7 686.6,970.3 688,971.1 689.4,971.9 690.7,972.9 692.1,974 693.5,975.3 694.9,976.9 696.3,978.7 697.7,980.8 699,983 700.4,985.2 701.8,987.4 703.2,989.7 704.6,992.1 706,994.6 707.3,997.1 708.7,999.6 710.1,1002 711.5,1004.5 712.9,1007.1 714.3,1009.6 715.6,1012.1 717,1014.5 718.4,1016.8 719.8,1018.8 721.2,1020.6 722.6,1022.3 723.9,1023.8 725.3,1025.2 726.7,1026.6 728.1,1027.8 729.5,1028.9 730.9,1029.8 732.2,1030.5 733.6,1031.2 735,1031.8 736.4,1032.3 737.8,1032.8 739.2,1033.2 740.5,1033.5 741.9,1033.7 743.3,1033.8 743.3,1034.9" fill="#bbdbf8" fill-opacity="0.85"/>
<polyline points="245,1033.9 495.8,1033.9 497.1,1033.8 498.5,1033.8 499.9,1033.7 501.3,1033.6 502.7,1033.6 504.1,1033.5 505.4,1033.4 506.8,1033.4 508.2,1033.3 509.6,1033.2 511,1033.1 512.3,1033.1 513.7,1033 515.1,1032.9 516.5,1032.8 517.9,1032.8 519.3,1032.7 520.6,1032.6 522,1032.5 523.4,1032.5 524.8,1032.4 526.2,1032.3 527.6,1032.2 528.9,1032.1 530.3,1032 531.7,1032 533.1,1031.9 534.5,1031.8 535.9,1031.7 537.2,1031.6 538.6,1031.6 540,1031.5 541.4,1031.4 542.8,1031.3 544.2,1031.2 545.5,1031.1 546.9,1031 548.3,1030.9 549.7,1030.8 551.1,1030.7 552.5,1030.7 553.8,1030.6 555.2,1030.5 556.6,1030.4 558,1030.2 559.4,1030.1 560.8,1030 562.1,1029.9 563.5,1029.8 564.9,1029.7 566.3,1029.6 567.7,1029.5 569,1029.4 570.4,1029.2 571.8,1029.1 573.2,1029 574.6,1028.8 576,1028.7 577.3,1028.6 578.7,1028.4 580.1,1028.3 581.5,1028.1 582.9,1027.9 584.3,1027.7 585.6,1027.5 587,1027.3 588.4,1027.1 589.8,1026.9 591.2,1026.6 592.6,1026.4 593.9,1026.1 595.3,1025.8 596.7,1025.5 598.1,1025.1 599.5,1024.8 600.9,1024.4 602.2,1024.1 603.6,1023.7 605,1023.3 606.4,1022.9 607.8,1022.4 609.2,1022 610.5,1021.5 611.9,1021 613.3,1020.5 614.7,1019.9 616.1,1019.3 617.5,1018.7 618.8,1018 620.2,1017.3 621.6,1016.6 623,1015.7 624.4,1014.8 625.8,1013.9 627.1,1012.9 628.5,1011.9 629.9,1010.8 631.3,1009.7 632.7,1008.6 634,1007.4 635.4,1006.1 636.8,1004.8 638.2,1003.4 639.6,1002 641,1000.5 642.3,999 643.7,997.5 645.1,996 646.5,994.5 647.9,992.8 649.3,991.2 650.6,989.5 652,987.8 653.4,986.1 654.8,984.5 656.2,982.9 657.6,981.4 658.9,980 660.3,978.7 661.7,977.4 663.1,976.1 664.5,974.9 665.9,973.8 667.2,972.9 668.6,972.1 670,971.4 671.4,970.8 672.8,970.3 674.2,969.8 675.5,969.4 676.9,969.1 678.3,968.8 679.7,968.7 681.1,968.7 682.5,968.8 683.8,969.2 685.2,969.7 686.6,970.3 688,971.1 689.4,971.9 690.7,972.9 692.1,974 693.5,975.3 694.9,976.9 696.3,978.7 697.7,980.8 699,983 700.4,985.2 701.8,987.4 703.2,989.7 704.6,992.1 706,994.6 707.3,997.1 708.7,999.6 710.1,1002 711.5,1004.5 712.9,1007.1 714.3,1009.6 715.6,1012.1 717,1014.5 718.4,1016.8 719.8,1018.8 721.2,1020.6 722.6,1022.3 723.9,1023.8 725.3,1025.2 726.7,1026.6 728.1,1027.8 729.5,1028.9 730.9,1029.8 732.2,1030.5 733.6,1031.2 735,1031.8 736.4,1032.3 737.8,1032.8 739.2,1033.2 740.5,1033.5 741.9,1033.7 743.3,1033.8 799,1033.9" fill="none" stroke="#fff" stroke-opacity="0.92" stroke-width="2" stroke-linejoin="round"/>
<line x1="245" x2="799" y1="1034.2" y2="1034.2" stroke="#bbdbf8" stroke-opacity="0.5" stroke-width="2.2"/>
<text x="220" y="1042.5" font-size="26.3" text-anchor="end" fill="#111">random</text>
<line x1="327" x2="327" y1="1048.5" y2="1057.5" stroke="#161616" stroke-width="2"/>
<text x="327" y="1085.6" font-size="26" text-anchor="middle" fill="#111">0.4</text>
<line x1="460.7" x2="460.7" y1="1048.5" y2="1057.5" stroke="#161616" stroke-width="2"/>
<text x="460.7" y="1085.6" font-size="26" text-anchor="middle" fill="#111">0.6</text>
<line x1="594.3" x2="594.3" y1="1048.5" y2="1057.5" stroke="#161616" stroke-width="2"/>
<text x="594.3" y="1085.6" font-size="26" text-anchor="middle" fill="#111">0.8</text>
<line x1="728.3" x2="728.3" y1="1048.5" y2="1057.5" stroke="#161616" stroke-width="2"/>
<text x="728.3" y="1085.6" font-size="26" text-anchor="middle" fill="#111">1.0</text>
<text x="522" y="1122.2" font-size="29.5" text-anchor="middle" font-weight="bold" fill="#000">Average probability</text>
</g>
<g id="panel-c">
<circle cx="1186" cy="829.2" r="52.8" fill="none" stroke="#b0b0b0" stroke-width="1.6"/>
<circle cx="1186" cy="829.2" r="105.6" fill="none" stroke="#b0b0b0" stroke-width="1.6"/>
<circle cx="1186" cy="829.2" r="158.4" fill="none" stroke="#b0b0b0" stroke-width="1.6"/>
<circle cx="1186" cy="829.2" r="211.2" fill="none" stroke="#b0b0b0" stroke-width="1.6"/>
<line x1="1186" y1="829.2" x2="1186" y2="565.2" stroke="#b0b0b0" stroke-width="1.6"/>
<line x1="1186" y1="829.2" x2="1414.6" y2="961.2" stroke="#b0b0b0" stroke-width="1.6"/>
<line x1="1186" y1="829.2" x2="957.4" y2="961.2" stroke="#b0b0b0" stroke-width="1.6"/>
<text x="1188.5" y="824.7" font-size="23.6" text-anchor="start" fill="#8c8c8c">12</text>
<text x="1189.6" y="771.9" font-size="23.6" text-anchor="start" fill="#8c8c8c">13</text>
<text x="1190.7" y="719.1" font-size="23.6" text-anchor="start" fill="#8c8c8c">14</text>
<text x="1191.8" y="666.3" font-size="23.6" text-anchor="start" fill="#8c8c8c">15</text>
<text x="1192.9" y="613.5" font-size="23.6" text-anchor="start" fill="#8c8c8c">16</text>
<text x="1194" y="560.7" font-size="23.6" text-anchor="start" fill="#8c8c8c">17</text>
<polygon points="1186,569.4 1405.9,956.2 994.4,939.8" fill="none" stroke="#8f3fca" stroke-width="2.3" stroke-linejoin="miter"/>
<polygon points="1186,644.4 1369.8,935.3 1014.5,928.2" fill="none" stroke="#8b5cdc" stroke-width="2.3" stroke-linejoin="miter"/>
<polygon points="1186,648.6 1358.8,929 1007.7,932.2" fill="none" stroke="#675fd9" stroke-width="2.9" stroke-linejoin="miter"/>
<polygon points="1186,611.7 1364.3,932.2 1018.6,925.8" fill="none" stroke="#4f6fcc" stroke-width="2.5" stroke-linejoin="miter"/>
<polygon points="1186,632.8 1376.2,939 982.5,946.7" fill="none" stroke="#4590e2" stroke-width="2.7" stroke-linejoin="miter"/>
<polygon points="1186,628.6 1389,946.4 981.6,947.2" fill="none" stroke="#27a4ea" stroke-width="2.7" stroke-linejoin="miter"/>
<polygon points="1186,698.3 1268.3,876.7 1149.4,850.3" fill="none" stroke="#2fb0dc" stroke-width="2.5" stroke-linejoin="miter"/>
<polygon points="1186,679.8 1304.9,897.8 1037.4,915" fill="none" stroke="#4fbce4" stroke-width="2.5" stroke-linejoin="miter"/>
<polygon points="1186,788 1234.5,857.2 1162.2,842.9" fill="none" stroke="#84d0f0" stroke-width="2.3" stroke-linejoin="miter"/>
<polygon points="1186,573.6 1403.7,954.9 999.4,936.9" fill="none" stroke="#9acfea" stroke-width="2.7" stroke-linejoin="miter"/>
<polygon points="1186,601.1 1401.4,953.5 1001.7,935.6" fill="none" stroke="#b9d9f3" stroke-width="2.7" stroke-linejoin="miter"/>
<circle cx="1186" cy="829.2" r="264" fill="none" stroke="#161616" stroke-width="1.9"/>
<text x="1187" y="539.3" font-size="25.6" text-anchor="middle" fill="#111">Top50</text>
<text x="1415.5" y="985.2" font-size="26" text-anchor="start" fill="#111">Top100</text>
<text x="956.5" y="985.2" font-size="26" text-anchor="end" fill="#111">Top200</text>
<text x="1186.5" y="1125.2" font-size="31" text-anchor="middle" font-weight="bold" fill="#000">Diversity</text>
<rect x="1496.2" y="576.2" width="186.4" height="350" rx="4" ry="4" fill="#fff" stroke="#d2d2d2" stroke-width="1.6"/>
<line x1="1504.2" x2="1548.6" y1="593.9" y2="593.9" stroke="#8f3fca" stroke-width="2.4"/>
<text x="1565.7" y="600.9" font-size="21" text-anchor="start" fill="#1a1a1a">AMPainter</text>
<line x1="1504.2" x2="1548.6" y1="625.1" y2="625.1" stroke="#8b5cdc" stroke-width="2.4"/>
<text x="1565.7" y="632.1" font-size="21" text-anchor="start" fill="#1a1a1a">HydrAMP</text>
<line x1="1504.2" x2="1548.6" y1="656.3" y2="656.3" stroke="#675fd9" stroke-width="2.4"/>
<text x="1565.7" y="663.3" font-size="21" text-anchor="start" fill="#1a1a1a">EvoPlay</text>
<line x1="1504.2" x2="1548.6" y1="687.5" y2="687.5" stroke="#4f6fcc" stroke-width="2.4"/>
<text x="1565.7" y="694.5" font-size="21" text-anchor="start" fill="#1a1a1a">PEX</text>
<line x1="1504.2" x2="1548.6" y1="718.7" y2="718.7" stroke="#4590e2" stroke-width="2.4"/>
<text x="1565.7" y="725.7" font-size="21" text-anchor="start" fill="#1a1a1a">MCMC</text>
<line x1="1504.2" x2="1548.6" y1="749.9" y2="749.9" stroke="#27a4ea" stroke-width="2.4"/>
<text x="1565.7" y="756.9" font-size="21" text-anchor="start" fill="#1a1a1a">AdaLead</text>
<line x1="1504.2" x2="1548.6" y1="781.1" y2="781.1" stroke="#2fb0dc" stroke-width="2.4"/>
<text x="1565.7" y="788.1" font-size="21" text-anchor="start" fill="#1a1a1a">DyNA-PPO</text>
<line x1="1504.2" x2="1548.6" y1="812.3" y2="812.3" stroke="#4fbce4" stroke-width="2.4"/>
<text x="1565.7" y="819.3" font-size="21" text-anchor="start" fill="#1a1a1a">CbAS</text>
<line x1="1504.2" x2="1548.6" y1="843.5" y2="843.5" stroke="#84d0f0" stroke-width="2.4"/>
<text x="1565.7" y="850.5" font-size="21" text-anchor="start" fill="#1a1a1a">CMA-ES</text>
<line x1="1504.2" x2="1548.6" y1="874.7" y2="874.7" stroke="#9acfea" stroke-width="2.4"/>
<text x="1565.7" y="881.7" font-size="21" text-anchor="start" fill="#1a1a1a">BO</text>
<line x1="1504.2" x2="1548.6" y1="905.9" y2="905.9" stroke="#b9d9f3" stroke-width="2.4"/>
<text x="1565.7" y="912.9" font-size="21" text-anchor="start" fill="#1a1a1a">random</text>
</g>
<g id="panel-d">
<line x1="173.1" x2="827.6" y1="1239.4" y2="1239.4" stroke="#d8d8d8" stroke-width="1.8" stroke-dasharray="9.2 4"/>
<line x1="173.1" x2="827.6" y1="1346.4" y2="1346.4" stroke="#d8d8d8" stroke-width="1.8" stroke-dasharray="9.2 4"/>
<line x1="173.1" x2="827.6" y1="1453.6" y2="1453.6" stroke="#d8d8d8" stroke-width="1.8" stroke-dasharray="9.2 4"/>
<rect x="204.9" y="1478.4" width="45.5" height="18.4" fill="#4a6ce0"/>
<path d="M227.7 1455.2 V1479.9 M227.7 1495.3 V1500.7 M215.2 1455.2 H240.1 M215.2 1500.7 H240.1" fill="none" stroke="#6e6e6e" stroke-width="2.3"/>
<circle cx="227.7" cy="1442.4" r="2.5" fill="#919191" fill-opacity="0.9"/>
<circle cx="227.7" cy="1447.4" r="2.5" fill="#919191" fill-opacity="0.9"/>
<rect x="313.9" y="1373.6" width="46.5" height="22.5" fill="#6f9bea"/>
<path d="M337.1 1350.4 V1375.1 M337.1 1394.6 V1423.6 M324.8 1350.4 H349.5 M324.8 1423.6 H349.5" fill="none" stroke="#6e6e6e" stroke-width="2.3"/>
<circle cx="337.1" cy="1430.4" r="2.5" fill="#919191" fill-opacity="0.9"/>
<rect x="423.1" y="1442.4" width="46.1" height="11.2" fill="#87ceeb"/>
<path d="M446.1 1428.8 V1443.9 M446.1 1452.1 V1455.2 M433.8 1428.8 H458.5 M433.8 1455.2 H458.5" fill="none" stroke="#6e6e6e" stroke-width="2.3"/>
<circle cx="446.1" cy="1420.7" r="2.5" fill="#919191" fill-opacity="0.9"/>
<circle cx="446.1" cy="1424.2" r="2.5" fill="#919191" fill-opacity="0.9"/>
<rect x="532.5" y="1394.4" width="45.9" height="14.5" fill="#8fd0f8"/>
<path d="M555.5 1377.5 V1395.9 M555.5 1407.4 V1411.4 M543.1 1377.5 H567.9 M543.1 1411.4 H567.9" fill="none" stroke="#6e6e6e" stroke-width="2.3"/>
<circle cx="555.5" cy="1369.8" r="2.5" fill="#919191" fill-opacity="0.9"/>
<circle cx="555.5" cy="1372.8" r="2.5" fill="#919191" fill-opacity="0.9"/>
<rect x="641.8" y="1262.9" width="45.7" height="9.7" fill="#dcc0e0"/>
<path d="M664.6 1257.5 V1264.4 M664.6 1271.1 V1272.8 M652.2 1257.5 H677 M652.2 1272.8 H677" fill="none" stroke="#6e6e6e" stroke-width="2.3"/>
<circle cx="664.6" cy="1242.4" r="2.5" fill="#919191" fill-opacity="0.9"/>
<circle cx="664.6" cy="1248.7" r="2.5" fill="#919191" fill-opacity="0.9"/>
<rect x="750.8" y="1236.2" width="46.8" height="7.3" fill="#9410d8"/>
<path d="M774.2 1228.4 V1237.7 M774.2 1242 V1244.6 M761.8 1228.4 H786.6 M761.8 1244.6 H786.6" fill="none" stroke="#6e6e6e" stroke-width="2.3"/>
<circle cx="774.2" cy="1226.2" r="2.5" fill="#919191" fill-opacity="0.9"/>
<rect x="172.8" y="1184.8" width="654.8" height="376.4" fill="none" stroke="#161616" stroke-width="1.9"/>
<line x1="163.6" x2="172.8" y1="1561.2" y2="1561.2" stroke="#161616" stroke-width="2"/>
<text transform="translate(153.3 1573.1) scale(0.835 1)" font-size="33" text-anchor="end" fill="#111">0.0</text>
<line x1="163.6" x2="172.8" y1="1453.6" y2="1453.6" stroke="#161616" stroke-width="2"/>
<text transform="translate(153.3 1465.5) scale(0.835 1)" font-size="33" text-anchor="end" fill="#111">0.2</text>
<line x1="163.6" x2="172.8" y1="1346.4" y2="1346.4" stroke="#161616" stroke-width="2"/>
<text transform="translate(153.3 1358.3) scale(0.835 1)" font-size="33" text-anchor="end" fill="#111">0.4</text>
<line x1="163.6" x2="172.8" y1="1239.4" y2="1239.4" stroke="#161616" stroke-width="2"/>
<text transform="translate(153.3 1251.3) scale(0.835 1)" font-size="33" text-anchor="end" fill="#111">0.6</text>
<line x1="227.1" x2="227.1" y1="1561.2" y2="1569.2" stroke="#161616" stroke-width="2"/>
<text transform="translate(226.1 1600.4) rotate(-15)" font-size="25.2" text-anchor="middle" dy="0.35em" fill="#111">random</text>
<line x1="336.5" x2="336.5" y1="1561.2" y2="1569.2" stroke="#161616" stroke-width="2"/>
<text transform="translate(335.5 1594) rotate(-15)" font-size="25.2" text-anchor="middle" dy="0.35em" fill="#111">GA</text>
<line x1="445.5" x2="445.5" y1="1561.2" y2="1569.2" stroke="#161616" stroke-width="2"/>
<text transform="translate(444.5 1603.8) rotate(-15)" font-size="25.2" text-anchor="middle" dy="0.35em" fill="#111">PepCVAE</text>
<line x1="554.9" x2="554.9" y1="1561.2" y2="1569.2" stroke="#161616" stroke-width="2"/>
<text transform="translate(553.9 1603.3) rotate(-15)" font-size="25.2" text-anchor="middle" dy="0.35em" fill="#111">HydrAMP</text>
<line x1="664" x2="664" y1="1561.2" y2="1569.2" stroke="#161616" stroke-width="2"/>
<text transform="translate(663 1603.6) rotate(-15)" font-size="25.2" text-anchor="middle" dy="0.35em" fill="#111">deepAMP</text>
<line x1="773.6" x2="773.6" y1="1561.2" y2="1569.2" stroke="#161616" stroke-width="2"/>
<text transform="translate(772.6 1604.5) rotate(-15)" font-size="25.2" text-anchor="middle" dy="0.35em" fill="#111">AMPainter</text>
<text transform="translate(96 1374) rotate(-90)" font-size="31.4" font-weight="bold" text-anchor="middle" fill="#000">Fitness Score</text>
</g>
<g id="panel-e">
<line x1="1015.8" x2="1577.7" y1="1240.8" y2="1240.8" stroke="#d8d8d8" stroke-width="1.8" stroke-dasharray="9.2 4"/>
<line x1="1015.8" x2="1577.7" y1="1349.8" y2="1349.8" stroke="#d8d8d8" stroke-width="1.8" stroke-dasharray="9.2 4"/>
<line x1="1015.8" x2="1577.7" y1="1459" y2="1459" stroke="#d8d8d8" stroke-width="1.8" stroke-dasharray="9.2 4"/>
<rect x="1037.1" y="1452.4" width="27.7" height="7" fill="#dcc0e0"/>
<path d="M1050.9 1444.4 V1453.9 M1050.9 1457.9 V1460.3 M1042.7 1444.4 H1059.1 M1042.7 1460.3 H1059.1" fill="none" stroke="#6e6e6e" stroke-width="2.3"/>
<circle cx="1050.9" cy="1437.5" r="2.5" fill="#919191" fill-opacity="0.9"/>
<circle cx="1050.9" cy="1440.5" r="2.5" fill="#919191" fill-opacity="0.9"/>
<rect x="1077.2" y="1480.1" width="28.7" height="27.7" fill="#9a18dc"/>
<path d="M1091.6 1444.4 V1481.6 M1091.6 1506.3 V1517.1 M1083.4 1444.4 H1099.8 M1083.4 1517.1 H1099.8" fill="none" stroke="#6e6e6e" stroke-width="2.3"/>
<rect x="1149.8" y="1411.3" width="27.7" height="6.8" fill="#dcc0e0"/>
<path d="M1163.7 1403.8 V1412.8 M1163.7 1416.6 V1421.2 M1155.5 1403.8 H1171.9 M1155.5 1421.2 H1171.9" fill="none" stroke="#6e6e6e" stroke-width="2.3"/>
<circle cx="1163.7" cy="1387.1" r="2.5" fill="#919191" fill-opacity="0.9"/>
<circle cx="1163.7" cy="1390" r="2.5" fill="#919191" fill-opacity="0.9"/>
<circle cx="1163.7" cy="1393" r="2.5" fill="#919191" fill-opacity="0.9"/>
<circle cx="1163.7" cy="1396" r="2.5" fill="#919191" fill-opacity="0.9"/>
<circle cx="1163.7" cy="1399" r="2.5" fill="#919191" fill-opacity="0.9"/>
<rect x="1190.1" y="1399.1" width="28.5" height="13.8" fill="#9a18dc"/>
<path d="M1204.3 1381.3 V1400.6 M1204.3 1411.4 V1416.8 M1196.1 1381.3 H1212.5 M1196.1 1416.8 H1212.5" fill="none" stroke="#6e6e6e" stroke-width="2.3"/>
<circle cx="1204.3" cy="1372.2" r="2.5" fill="#919191" fill-opacity="0.9"/>
<circle cx="1204.3" cy="1376.2" r="2.5" fill="#919191" fill-opacity="0.9"/>
<rect x="1262.6" y="1366.9" width="27.7" height="8.3" fill="#dcc0e0"/>
<path d="M1276.4 1356.6 V1368.4 M1276.4 1373.7 V1377.5 M1268.2 1356.6 H1284.6 M1268.2 1377.5 H1284.6" fill="none" stroke="#6e6e6e" stroke-width="2.3"/>
<circle cx="1276.4" cy="1342.3" r="2.5" fill="#919191" fill-opacity="0.9"/>
<circle cx="1276.4" cy="1350.8" r="2.5" fill="#919191" fill-opacity="0.9"/>
<rect x="1302.3" y="1319" width="28.1" height="12" fill="#9a18dc"/>
<path d="M1316.3 1302 V1320.5 M1316.3 1329.5 V1335.3 M1308.1 1302 H1324.5 M1308.1 1335.3 H1324.5" fill="none" stroke="#6e6e6e" stroke-width="2.3"/>
<circle cx="1316.3" cy="1292.9" r="2.5" fill="#919191" fill-opacity="0.9"/>
<circle cx="1316.3" cy="1298" r="2.5" fill="#919191" fill-opacity="0.9"/>
<rect x="1374.3" y="1317.1" width="28.7" height="5.2" fill="#dcc0e0"/>
<path d="M1388.7 1309.4 V1318.6 M1388.7 1320.8 V1325.2 M1380.5 1309.4 H1396.9 M1380.5 1325.2 H1396.9" fill="none" stroke="#6e6e6e" stroke-width="2.3"/>
<rect x="1415.2" y="1261.3" width="27.9" height="9.3" fill="#9a18dc"/>
<path d="M1429.2 1247.6 V1262.8 M1429.2 1269.1 V1275.5 M1421 1247.6 H1437.4 M1421 1275.5 H1437.4" fill="none" stroke="#6e6e6e" stroke-width="2.3"/>
<circle cx="1429.2" cy="1238.5" r="2.5" fill="#919191" fill-opacity="0.9"/>
<circle cx="1429.2" cy="1244.5" r="2.5" fill="#919191" fill-opacity="0.9"/>
<rect x="1487.2" y="1265.6" width="28.1" height="7" fill="#dcc0e0"/>
<path d="M1501.2 1259 V1267.1 M1501.2 1271.1 V1274.5 M1493 1259 H1509.5 M1493 1274.5 H1509.5" fill="none" stroke="#6e6e6e" stroke-width="2.3"/>
<circle cx="1501.2" cy="1243.5" r="2.5" fill="#919191" fill-opacity="0.9"/>
<circle cx="1501.2" cy="1250.1" r="2.5" fill="#919191" fill-opacity="0.9"/>
<rect x="1527.9" y="1237.5" width="28.1" height="6" fill="#9a18dc"/>
<path d="M1542 1229.2 V1239 M1542 1242 V1245.5 M1533.8 1229.2 H1550.2 M1533.8 1245.5 H1550.2" fill="none" stroke="#6e6e6e" stroke-width="2.3"/>
<circle cx="1542" cy="1226.9" r="2.5" fill="#919191" fill-opacity="0.9"/>
<rect x="1014.8" y="1185.8" width="562.9" height="382" fill="none" stroke="#161616" stroke-width="1.9"/>
<line x1="1005.6" x2="1014.8" y1="1567.8" y2="1567.8" stroke="#161616" stroke-width="2"/>
<text transform="translate(995.2 1579.7) scale(0.835 1)" font-size="33" text-anchor="end" fill="#111">0.0</text>
<line x1="1005.6" x2="1014.8" y1="1459" y2="1459" stroke="#161616" stroke-width="2"/>
<text transform="translate(995.2 1470.9) scale(0.835 1)" font-size="33" text-anchor="end" fill="#111">0.2</text>
<line x1="1005.6" x2="1014.8" y1="1349.8" y2="1349.8" stroke="#161616" stroke-width="2"/>
<text transform="translate(995.2 1361.7) scale(0.835 1)" font-size="33" text-anchor="end" fill="#111">0.4</text>
<line x1="1005.6" x2="1014.8" y1="1240.8" y2="1240.8" stroke="#161616" stroke-width="2"/>
<text transform="translate(995.2 1252.7) scale(0.835 1)" font-size="33" text-anchor="end" fill="#111">0.6</text>
<line x1="1071.4" x2="1071.4" y1="1567.8" y2="1575.8" stroke="#161616" stroke-width="2"/>
<text transform="translate(1070.2 1608.6) rotate(-15)" font-size="26" text-anchor="middle" dy="0.35em" fill="#111">round 1</text>
<line x1="1183.8" x2="1183.8" y1="1567.8" y2="1575.8" stroke="#161616" stroke-width="2"/>
<text transform="translate(1182.6 1608.6) rotate(-15)" font-size="26" text-anchor="middle" dy="0.35em" fill="#111">round 2</text>
<line x1="1295.6" x2="1295.6" y1="1567.8" y2="1575.8" stroke="#161616" stroke-width="2"/>
<text transform="translate(1294.4 1608.6) rotate(-15)" font-size="26" text-anchor="middle" dy="0.35em" fill="#111">round 3</text>
<line x1="1408" x2="1408" y1="1567.8" y2="1575.8" stroke="#161616" stroke-width="2"/>
<text transform="translate(1406.8 1608.6) rotate(-15)" font-size="26" text-anchor="middle" dy="0.35em" fill="#111">round 4</text>
<line x1="1520.5" x2="1520.5" y1="1567.8" y2="1575.8" stroke="#161616" stroke-width="2"/>
<text transform="translate(1519.3 1608.6) rotate(-15)" font-size="26" text-anchor="middle" dy="0.35em" fill="#111">round 5</text>
<text transform="translate(937 1378.5) rotate(-90)" font-size="31.4" font-weight="bold" text-anchor="middle" fill="#000">Fitness Score</text>
<rect x="1026.7" y="1198.1" width="197.9" height="74.4" rx="4" ry="4" fill="#fff" fill-opacity="0.85" stroke="#d4d4d4" stroke-width="2"/>
<rect x="1036.1" y="1208.7" width="47.6" height="15.6" fill="#dcc0e0"/>
<rect x="1036.1" y="1242.2" width="47.6" height="16.2" fill="#9a18dc"/>
<text x="1104.1" y="1224.6" font-size="23.9" text-anchor="start" fill="#1a1a1a">deepAMP</text>
<text x="1104.1" y="1258.5" font-size="23.9" text-anchor="start" fill="#1a1a1a">AMPainter</text>
</g>
<text x="34" y="49.2" font-size="53" text-anchor="start" font-weight="bold" fill="#000">a</text>
<text x="34.5" y="517" font-size="53" text-anchor="start" font-weight="bold" fill="#000">b</text>
<text x="875" y="517" font-size="53" text-anchor="start" font-weight="bold" fill="#000">c</text>
<text x="34.5" y="1185.2" font-size="53" text-anchor="start" font-weight="bold" fill="#000">d</text>
<text x="873.5" y="1185.4" font-size="53" text-anchor="start" font-weight="bold" fill="#000">e</text>
</svg>
</body></html>
